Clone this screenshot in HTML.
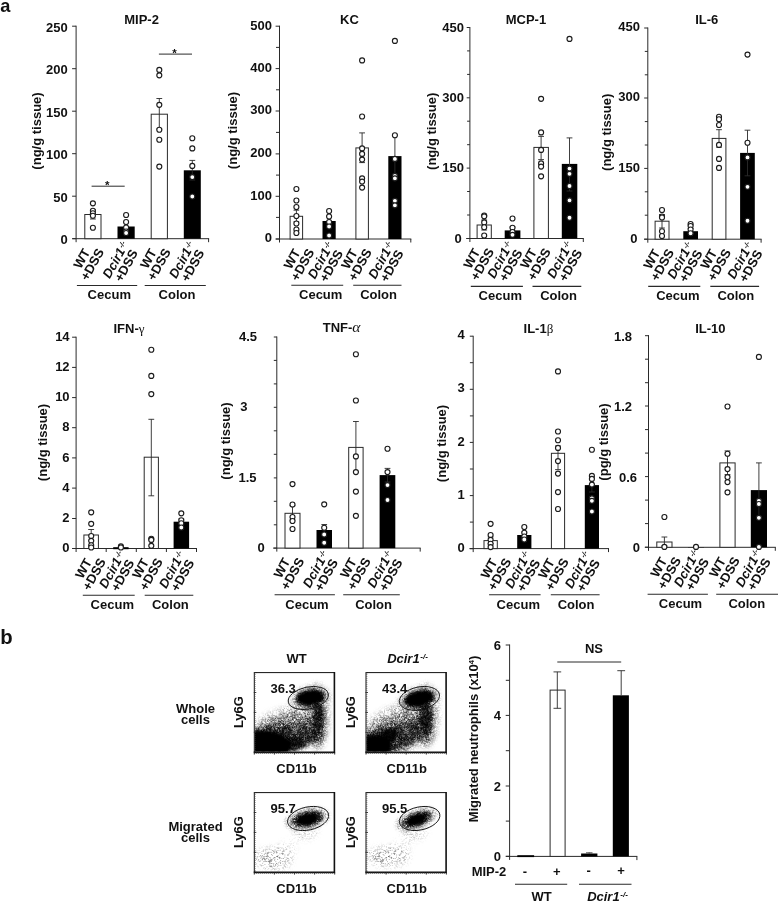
<!DOCTYPE html>
<html lang="en"><head><meta charset="utf-8"><title>Figure</title>
<style>html,body{margin:0;padding:0;background:#fff}svg{display:block}</style>
</head><body>
<svg width="778" height="903" viewBox="0 0 778 903" font-family="'Liberation Sans',Arial,sans-serif" fill="#111" shape-rendering="geometricPrecision">
<rect width="778" height="903" fill="#fff"/>
<text x="0.3" y="11.6" font-size="18.2" text-anchor="start" font-weight="bold">a</text>
<text x="0.2" y="643.7" font-size="20.3" text-anchor="start" font-weight="bold">b</text>
<line x1="76.1" y1="25.7" x2="76.1" y2="242.2" stroke="#2a2a2a" stroke-width="1"/>
<line x1="72.4" y1="238.7" x2="209.1" y2="238.7" stroke="#2a2a2a" stroke-width="1"/>
<line x1="208.6" y1="238.7" x2="208.6" y2="242.2" stroke="#2a2a2a" stroke-width="1"/>
<line x1="72.1" y1="26.2" x2="76.1" y2="26.2" stroke="#2a2a2a" stroke-width="1"/>
<text x="67.7" y="31.8" font-size="13" text-anchor="end" font-weight="bold">250</text>
<line x1="72.1" y1="68.7" x2="76.1" y2="68.7" stroke="#2a2a2a" stroke-width="1"/>
<text x="67.7" y="74.3" font-size="13" text-anchor="end" font-weight="bold">200</text>
<line x1="72.1" y1="111.2" x2="76.1" y2="111.2" stroke="#2a2a2a" stroke-width="1"/>
<text x="67.7" y="116.8" font-size="13" text-anchor="end" font-weight="bold">150</text>
<line x1="72.1" y1="153.7" x2="76.1" y2="153.7" stroke="#2a2a2a" stroke-width="1"/>
<text x="67.7" y="159.3" font-size="13" text-anchor="end" font-weight="bold">100</text>
<line x1="72.1" y1="196.2" x2="76.1" y2="196.2" stroke="#2a2a2a" stroke-width="1"/>
<text x="67.7" y="201.8" font-size="13" text-anchor="end" font-weight="bold">50</text>
<line x1="72.1" y1="238.7" x2="76.1" y2="238.7" stroke="#2a2a2a" stroke-width="1"/>
<text x="67.7" y="244.3" font-size="13" text-anchor="end" font-weight="bold">0</text>
<text x="141.6" y="23.5" font-size="13" text-anchor="middle" font-weight="bold">MIP-2</text>
<text x="41" y="131" font-size="13" text-anchor="middle" font-weight="bold" transform="rotate(-90 41 131)">(ng/g tissue)</text>
<rect x="84.8" y="214.5" width="16.2" height="24.2" fill="#fff" stroke="#2a2a2a" stroke-width="1"/>
<rect x="117.5" y="226.5" width="17.2" height="12.2" fill="#000"/>
<rect x="151.2" y="114.2" width="16.2" height="124.5" fill="#fff" stroke="#2a2a2a" stroke-width="1"/>
<rect x="183.8" y="170.3" width="17" height="68.4" fill="#000"/>
<line x1="92.9" y1="209.5" x2="92.9" y2="219" stroke="#2a2a2a" stroke-width="0.9"/>
<line x1="90" y1="219" x2="95.8" y2="219" stroke="#2a2a2a" stroke-width="0.9"/>
<line x1="90" y1="209.5" x2="95.8" y2="209.5" stroke="#2a2a2a" stroke-width="0.9"/>
<line x1="126.1" y1="222.5" x2="126.1" y2="226.5" stroke="#2a2a2a" stroke-width="0.9"/>
<line x1="126.1" y1="226.5" x2="126.1" y2="230" stroke="#303030" stroke-width="0.8"/>
<line x1="123.2" y1="230" x2="129" y2="230" stroke="#303030" stroke-width="0.8"/>
<line x1="123.2" y1="222.5" x2="129" y2="222.5" stroke="#2a2a2a" stroke-width="0.9"/>
<line x1="159.3" y1="98.5" x2="159.3" y2="129" stroke="#2a2a2a" stroke-width="0.9"/>
<line x1="156.4" y1="129" x2="162.2" y2="129" stroke="#2a2a2a" stroke-width="0.9"/>
<line x1="156.4" y1="98.5" x2="162.2" y2="98.5" stroke="#2a2a2a" stroke-width="0.9"/>
<line x1="192.3" y1="160.4" x2="192.3" y2="170.3" stroke="#2a2a2a" stroke-width="0.9"/>
<line x1="192.3" y1="170.3" x2="192.3" y2="180" stroke="#303030" stroke-width="0.8"/>
<line x1="189.4" y1="180" x2="195.2" y2="180" stroke="#303030" stroke-width="0.8"/>
<line x1="189.4" y1="160.4" x2="195.2" y2="160.4" stroke="#2a2a2a" stroke-width="0.9"/>
<circle cx="92.9" cy="203.3" r="2.5" fill="#fff" stroke="#1c1c1c" stroke-width="1.15"/>
<circle cx="92.9" cy="210.7" r="2.5" fill="#fff" stroke="#1c1c1c" stroke-width="1.15"/>
<circle cx="92.9" cy="213.2" r="2.5" fill="#fff" stroke="#1c1c1c" stroke-width="1.15"/>
<circle cx="92.9" cy="215.7" r="2.5" fill="#fff" stroke="#1c1c1c" stroke-width="1.15"/>
<circle cx="92.9" cy="227.7" r="2.5" fill="#fff" stroke="#1c1c1c" stroke-width="1.15"/>
<circle cx="126.1" cy="215" r="2.5" fill="#fff" stroke="#1c1c1c" stroke-width="1.15"/>
<circle cx="126.1" cy="222" r="2.5" fill="#fff" stroke="#1c1c1c" stroke-width="1.15"/>
<circle cx="126.1" cy="227.5" r="2.5" fill="#fff" stroke="#1c1c1c" stroke-width="1.15"/>
<circle cx="126.1" cy="231.5" r="2.5" fill="#fff" stroke="#1c1c1c" stroke-width="1.15"/>
<circle cx="126.1" cy="233" r="2.5" fill="#fff" stroke="#1c1c1c" stroke-width="1.15"/>
<circle cx="159.3" cy="69.9" r="2.5" fill="#fff" stroke="#1c1c1c" stroke-width="1.15"/>
<circle cx="159.3" cy="75.3" r="2.5" fill="#fff" stroke="#1c1c1c" stroke-width="1.15"/>
<circle cx="159.3" cy="104.8" r="2.5" fill="#fff" stroke="#1c1c1c" stroke-width="1.15"/>
<circle cx="159.3" cy="129.7" r="2.5" fill="#fff" stroke="#1c1c1c" stroke-width="1.15"/>
<circle cx="159.3" cy="139.7" r="2.5" fill="#fff" stroke="#1c1c1c" stroke-width="1.15"/>
<circle cx="159.3" cy="166.6" r="2.5" fill="#fff" stroke="#1c1c1c" stroke-width="1.15"/>
<circle cx="192.3" cy="138.2" r="2.5" fill="#fff" stroke="#1c1c1c" stroke-width="1.15"/>
<circle cx="192.3" cy="148.4" r="2.5" fill="#fff" stroke="#1c1c1c" stroke-width="1.15"/>
<circle cx="192.3" cy="165.9" r="2.5" fill="#fff" stroke="#1c1c1c" stroke-width="1.15"/>
<circle cx="192.3" cy="177.1" r="2.5" fill="#fff" stroke="#1c1c1c" stroke-width="1.15"/>
<circle cx="192.3" cy="196.5" r="2.5" fill="#fff" stroke="#1c1c1c" stroke-width="1.15"/>
<g transform="translate(87 261.5) rotate(-61)" font-size="13" font-weight="bold" text-anchor="middle">
<text x="0" y="-1.5">WT</text>
<text x="0" y="10.5">+DSS</text>
</g>
<g transform="translate(120.8 262.7) rotate(-61)" font-size="13" font-weight="bold" text-anchor="middle">
<text x="0" y="-1.5"><tspan font-style="italic">Dcir1</tspan><tspan font-size="7" font-weight="bold" font-style="italic" dx=".6" dy="-4">-/-</tspan></text>
<text x="0" y="10.5">+DSS</text>
</g>
<g transform="translate(153.6 261.5) rotate(-61)" font-size="13" font-weight="bold" text-anchor="middle">
<text x="0" y="-1.5">WT</text>
<text x="0" y="10.5">+DSS</text>
</g>
<g transform="translate(187.3 262.7) rotate(-61)" font-size="13" font-weight="bold" text-anchor="middle">
<text x="0" y="-1.5"><tspan font-style="italic">Dcir1</tspan><tspan font-size="7" font-weight="bold" font-style="italic" dx=".6" dy="-4">-/-</tspan></text>
<text x="0" y="10.5">+DSS</text>
</g>
<line x1="76.9" y1="285.5" x2="137.2" y2="285.5" stroke="#2a2a2a" stroke-width="1.1"/>
<text x="109.3" y="299.3" font-size="13" text-anchor="middle" font-weight="bold">Cecum</text>
<line x1="144.7" y1="285.5" x2="205.8" y2="285.5" stroke="#2a2a2a" stroke-width="1.1"/>
<text x="177" y="299.3" font-size="13" text-anchor="middle" font-weight="bold">Colon</text>
<line x1="91.6" y1="186.2" x2="124.7" y2="186.2" stroke="#2a2a2a" stroke-width="1"/>
<text x="107.2" y="189.4" font-size="11.5" text-anchor="middle" font-weight="bold">*</text>
<line x1="158.9" y1="54.1" x2="192" y2="54.1" stroke="#2a2a2a" stroke-width="1"/>
<text x="174.4" y="57.3" font-size="11.5" text-anchor="middle" font-weight="bold">*</text>
<line x1="279.5" y1="25.7" x2="279.5" y2="242.5" stroke="#2a2a2a" stroke-width="1"/>
<line x1="275.8" y1="239" x2="411.3" y2="239" stroke="#2a2a2a" stroke-width="1"/>
<line x1="410.8" y1="239" x2="410.8" y2="242.5" stroke="#2a2a2a" stroke-width="1"/>
<line x1="275.6" y1="26.2" x2="279.5" y2="26.2" stroke="#2a2a2a" stroke-width="1"/>
<text x="272" y="29.6" font-size="13" text-anchor="end" font-weight="bold">500</text>
<line x1="275.6" y1="68.6" x2="279.5" y2="68.6" stroke="#2a2a2a" stroke-width="1"/>
<text x="272" y="72" font-size="13" text-anchor="end" font-weight="bold">400</text>
<line x1="275.6" y1="111" x2="279.5" y2="111" stroke="#2a2a2a" stroke-width="1"/>
<text x="272" y="114.4" font-size="13" text-anchor="end" font-weight="bold">300</text>
<line x1="275.6" y1="153.9" x2="279.5" y2="153.9" stroke="#2a2a2a" stroke-width="1"/>
<text x="272" y="157.3" font-size="13" text-anchor="end" font-weight="bold">200</text>
<line x1="275.6" y1="196.3" x2="279.5" y2="196.3" stroke="#2a2a2a" stroke-width="1"/>
<text x="272" y="199.7" font-size="13" text-anchor="end" font-weight="bold">100</text>
<line x1="275.6" y1="239" x2="279.5" y2="239" stroke="#2a2a2a" stroke-width="1"/>
<text x="272" y="242.4" font-size="13" text-anchor="end" font-weight="bold">0</text>
<line x1="276" y1="47.4" x2="279.5" y2="47.4" stroke="#2a2a2a" stroke-width="1"/>
<line x1="276" y1="89.8" x2="279.5" y2="89.8" stroke="#2a2a2a" stroke-width="1"/>
<line x1="276" y1="132.4" x2="279.5" y2="132.4" stroke="#2a2a2a" stroke-width="1"/>
<line x1="276" y1="175.1" x2="279.5" y2="175.1" stroke="#2a2a2a" stroke-width="1"/>
<line x1="276" y1="217.4" x2="279.5" y2="217.4" stroke="#2a2a2a" stroke-width="1"/>
<text x="349.5" y="23.5" font-size="13" text-anchor="middle" font-weight="bold">KC</text>
<text x="237.3" y="130.5" font-size="13" text-anchor="middle" font-weight="bold" transform="rotate(-90 237.3 130.5)">(ng/g tissue)</text>
<rect x="290.1" y="216.3" width="12.5" height="22.7" fill="#fff" stroke="#2a2a2a" stroke-width="1"/>
<rect x="322.5" y="221" width="13.2" height="18" fill="#000"/>
<rect x="355.9" y="147.9" width="12.5" height="91.1" fill="#fff" stroke="#2a2a2a" stroke-width="1"/>
<rect x="388.3" y="156.1" width="13.2" height="82.9" fill="#000"/>
<line x1="296.4" y1="210.2" x2="296.4" y2="221.8" stroke="#2a2a2a" stroke-width="0.9"/>
<line x1="293.5" y1="221.8" x2="299.2" y2="221.8" stroke="#2a2a2a" stroke-width="0.9"/>
<line x1="293.5" y1="210.2" x2="299.2" y2="210.2" stroke="#2a2a2a" stroke-width="0.9"/>
<line x1="329.1" y1="216" x2="329.1" y2="221" stroke="#2a2a2a" stroke-width="0.9"/>
<line x1="329.1" y1="221" x2="329.1" y2="226" stroke="#303030" stroke-width="0.8"/>
<line x1="326.2" y1="226" x2="332" y2="226" stroke="#303030" stroke-width="0.8"/>
<line x1="326.2" y1="216" x2="332" y2="216" stroke="#2a2a2a" stroke-width="0.9"/>
<line x1="362.1" y1="132.9" x2="362.1" y2="162.6" stroke="#2a2a2a" stroke-width="0.9"/>
<line x1="359.2" y1="162.6" x2="365" y2="162.6" stroke="#2a2a2a" stroke-width="0.9"/>
<line x1="359.2" y1="132.9" x2="365" y2="132.9" stroke="#2a2a2a" stroke-width="0.9"/>
<line x1="394.9" y1="135.2" x2="394.9" y2="156.1" stroke="#2a2a2a" stroke-width="0.9"/>
<line x1="394.9" y1="156.1" x2="394.9" y2="177" stroke="#303030" stroke-width="0.8"/>
<line x1="392" y1="177" x2="397.8" y2="177" stroke="#303030" stroke-width="0.8"/>
<line x1="392" y1="135.2" x2="397.8" y2="135.2" stroke="#2a2a2a" stroke-width="0.9"/>
<circle cx="296.4" cy="189" r="2.5" fill="#fff" stroke="#1c1c1c" stroke-width="1.15"/>
<circle cx="296.4" cy="200.5" r="2.5" fill="#fff" stroke="#1c1c1c" stroke-width="1.15"/>
<circle cx="296.4" cy="207" r="2.5" fill="#fff" stroke="#1c1c1c" stroke-width="1.15"/>
<circle cx="296.4" cy="216" r="2.5" fill="#fff" stroke="#1c1c1c" stroke-width="1.15"/>
<circle cx="296.4" cy="223.5" r="2.5" fill="#fff" stroke="#1c1c1c" stroke-width="1.15"/>
<circle cx="296.4" cy="229.5" r="2.5" fill="#fff" stroke="#1c1c1c" stroke-width="1.15"/>
<circle cx="296.4" cy="233" r="2.5" fill="#fff" stroke="#1c1c1c" stroke-width="1.15"/>
<circle cx="329.1" cy="211" r="2.5" fill="#fff" stroke="#1c1c1c" stroke-width="1.15"/>
<circle cx="329.1" cy="216.5" r="2.5" fill="#fff" stroke="#1c1c1c" stroke-width="1.15"/>
<circle cx="329.1" cy="222" r="2.5" fill="#fff" stroke="#1c1c1c" stroke-width="1.15"/>
<circle cx="329.1" cy="226.5" r="2.5" fill="#fff" stroke="#1c1c1c" stroke-width="1.15"/>
<circle cx="329.1" cy="235.5" r="2.5" fill="#fff" stroke="#1c1c1c" stroke-width="1.15"/>
<circle cx="362.1" cy="60.4" r="2.5" fill="#fff" stroke="#1c1c1c" stroke-width="1.15"/>
<circle cx="362.1" cy="116.5" r="2.5" fill="#fff" stroke="#1c1c1c" stroke-width="1.15"/>
<circle cx="362.1" cy="148.4" r="2.5" fill="#fff" stroke="#1c1c1c" stroke-width="1.15"/>
<circle cx="362.1" cy="153.9" r="2.5" fill="#fff" stroke="#1c1c1c" stroke-width="1.15"/>
<circle cx="362.1" cy="159.6" r="2.5" fill="#fff" stroke="#1c1c1c" stroke-width="1.15"/>
<circle cx="362.1" cy="178.3" r="2.5" fill="#fff" stroke="#1c1c1c" stroke-width="1.15"/>
<circle cx="362.1" cy="181.6" r="2.5" fill="#fff" stroke="#1c1c1c" stroke-width="1.15"/>
<circle cx="362.1" cy="187.6" r="2.5" fill="#fff" stroke="#1c1c1c" stroke-width="1.15"/>
<circle cx="394.9" cy="40.9" r="2.5" fill="#fff" stroke="#1c1c1c" stroke-width="1.15"/>
<circle cx="394.9" cy="135.2" r="2.5" fill="#fff" stroke="#1c1c1c" stroke-width="1.15"/>
<circle cx="394.9" cy="158.9" r="2.5" fill="#fff" stroke="#1c1c1c" stroke-width="1.15"/>
<circle cx="394.9" cy="175.8" r="2.5" fill="#fff" stroke="#1c1c1c" stroke-width="1.15"/>
<circle cx="394.9" cy="178.3" r="2.5" fill="#fff" stroke="#1c1c1c" stroke-width="1.15"/>
<circle cx="394.9" cy="200.8" r="2.5" fill="#fff" stroke="#1c1c1c" stroke-width="1.15"/>
<circle cx="394.9" cy="205.3" r="2.5" fill="#fff" stroke="#1c1c1c" stroke-width="1.15"/>
<g transform="translate(297.2 261.8) rotate(-61)" font-size="13" font-weight="bold" text-anchor="middle">
<text x="0" y="-1.5">WT</text>
<text x="0" y="10.5">+DSS</text>
</g>
<g transform="translate(325.9 263) rotate(-61)" font-size="13" font-weight="bold" text-anchor="middle">
<text x="0" y="-1.5"><tspan font-style="italic">Dcir1</tspan><tspan font-size="7" font-weight="bold" font-style="italic" dx=".6" dy="-4">-/-</tspan></text>
<text x="0" y="10.5">+DSS</text>
</g>
<g transform="translate(354.6 261.8) rotate(-61)" font-size="13" font-weight="bold" text-anchor="middle">
<text x="0" y="-1.5">WT</text>
<text x="0" y="10.5">+DSS</text>
</g>
<g transform="translate(386.4 263) rotate(-61)" font-size="13" font-weight="bold" text-anchor="middle">
<text x="0" y="-1.5"><tspan font-style="italic">Dcir1</tspan><tspan font-size="7" font-weight="bold" font-style="italic" dx=".6" dy="-4">-/-</tspan></text>
<text x="0" y="10.5">+DSS</text>
</g>
<line x1="291.3" y1="285.3" x2="343.2" y2="285.3" stroke="#2a2a2a" stroke-width="1.1"/>
<text x="320.7" y="299.1" font-size="13" text-anchor="middle" font-weight="bold">Cecum</text>
<line x1="353.2" y1="285.3" x2="401.5" y2="285.3" stroke="#2a2a2a" stroke-width="1.1"/>
<text x="378.6" y="299.1" font-size="13" text-anchor="middle" font-weight="bold">Colon</text>
<line x1="469.9" y1="27" x2="469.9" y2="242" stroke="#2a2a2a" stroke-width="1"/>
<line x1="466.2" y1="238.5" x2="583.8" y2="238.5" stroke="#2a2a2a" stroke-width="1"/>
<line x1="583.3" y1="238.5" x2="583.3" y2="242" stroke="#2a2a2a" stroke-width="1"/>
<line x1="466.7" y1="27.5" x2="469.9" y2="27.5" stroke="#2a2a2a" stroke-width="1"/>
<text x="463.9" y="31.6" font-size="13" text-anchor="end" font-weight="bold">450</text>
<line x1="466.7" y1="97.8" x2="469.9" y2="97.8" stroke="#2a2a2a" stroke-width="1"/>
<text x="463.9" y="101.9" font-size="13" text-anchor="end" font-weight="bold">300</text>
<line x1="466.7" y1="168.1" x2="469.9" y2="168.1" stroke="#2a2a2a" stroke-width="1"/>
<text x="463.9" y="172.2" font-size="13" text-anchor="end" font-weight="bold">150</text>
<line x1="466.7" y1="238.5" x2="469.9" y2="238.5" stroke="#2a2a2a" stroke-width="1"/>
<text x="461.8" y="242.6" font-size="13" text-anchor="end" font-weight="bold">0</text>
<line x1="467.1" y1="50.9" x2="469.9" y2="50.9" stroke="#2a2a2a" stroke-width="1"/>
<line x1="467.1" y1="74.4" x2="469.9" y2="74.4" stroke="#2a2a2a" stroke-width="1"/>
<line x1="467.1" y1="121.2" x2="469.9" y2="121.2" stroke="#2a2a2a" stroke-width="1"/>
<line x1="467.1" y1="144.7" x2="469.9" y2="144.7" stroke="#2a2a2a" stroke-width="1"/>
<line x1="467.1" y1="191.5" x2="469.9" y2="191.5" stroke="#2a2a2a" stroke-width="1"/>
<line x1="467.1" y1="215" x2="469.9" y2="215" stroke="#2a2a2a" stroke-width="1"/>
<text x="525.9" y="23.5" font-size="13" text-anchor="middle" font-weight="bold">MCP-1</text>
<text x="436.5" y="131.3" font-size="13" text-anchor="middle" font-weight="bold" transform="rotate(-90 436.5 131.3)">(ng/g tissue)</text>
<rect x="477.1" y="225" width="14.2" height="13.5" fill="#fff" stroke="#2a2a2a" stroke-width="1"/>
<rect x="504.7" y="230.4" width="15.7" height="8.1" fill="#000"/>
<rect x="533.9" y="147.4" width="14.5" height="91.1" fill="#fff" stroke="#2a2a2a" stroke-width="1"/>
<rect x="561.8" y="163.9" width="15.5" height="74.6" fill="#000"/>
<line x1="484.2" y1="220" x2="484.2" y2="230" stroke="#2a2a2a" stroke-width="0.9"/>
<line x1="481.3" y1="230" x2="487.1" y2="230" stroke="#2a2a2a" stroke-width="0.9"/>
<line x1="481.3" y1="220" x2="487.1" y2="220" stroke="#2a2a2a" stroke-width="0.9"/>
<line x1="512.5" y1="227" x2="512.5" y2="230.4" stroke="#2a2a2a" stroke-width="0.9"/>
<line x1="512.5" y1="230.4" x2="512.5" y2="234" stroke="#303030" stroke-width="0.8"/>
<line x1="509.6" y1="234" x2="515.4" y2="234" stroke="#303030" stroke-width="0.8"/>
<line x1="509.6" y1="227" x2="515.4" y2="227" stroke="#2a2a2a" stroke-width="0.9"/>
<line x1="541.1" y1="136.4" x2="541.1" y2="159.6" stroke="#2a2a2a" stroke-width="0.9"/>
<line x1="538.2" y1="159.6" x2="544" y2="159.6" stroke="#2a2a2a" stroke-width="0.9"/>
<line x1="538.2" y1="136.4" x2="544" y2="136.4" stroke="#2a2a2a" stroke-width="0.9"/>
<line x1="569.5" y1="137.9" x2="569.5" y2="163.9" stroke="#2a2a2a" stroke-width="0.9"/>
<line x1="569.5" y1="163.9" x2="569.5" y2="191" stroke="#303030" stroke-width="0.8"/>
<line x1="566.6" y1="191" x2="572.4" y2="191" stroke="#303030" stroke-width="0.8"/>
<line x1="566.6" y1="137.9" x2="572.4" y2="137.9" stroke="#2a2a2a" stroke-width="0.9"/>
<circle cx="484.2" cy="215.5" r="2.5" fill="#fff" stroke="#1c1c1c" stroke-width="1.15"/>
<circle cx="484.2" cy="216.3" r="2.5" fill="#fff" stroke="#1c1c1c" stroke-width="1.15"/>
<circle cx="484.2" cy="222.4" r="2.5" fill="#fff" stroke="#1c1c1c" stroke-width="1.15"/>
<circle cx="484.2" cy="227.2" r="2.5" fill="#fff" stroke="#1c1c1c" stroke-width="1.15"/>
<circle cx="484.2" cy="235.5" r="2.5" fill="#fff" stroke="#1c1c1c" stroke-width="1.15"/>
<circle cx="512.5" cy="218.5" r="2.5" fill="#fff" stroke="#1c1c1c" stroke-width="1.15"/>
<circle cx="512.5" cy="227.7" r="2.5" fill="#fff" stroke="#1c1c1c" stroke-width="1.15"/>
<circle cx="512.5" cy="232" r="2.5" fill="#fff" stroke="#1c1c1c" stroke-width="1.15"/>
<circle cx="512.5" cy="234.8" r="2.5" fill="#fff" stroke="#1c1c1c" stroke-width="1.15"/>
<circle cx="541.1" cy="98.8" r="2.5" fill="#fff" stroke="#1c1c1c" stroke-width="1.15"/>
<circle cx="541.1" cy="132.4" r="2.5" fill="#fff" stroke="#1c1c1c" stroke-width="1.15"/>
<circle cx="541.1" cy="149.9" r="2.5" fill="#fff" stroke="#1c1c1c" stroke-width="1.15"/>
<circle cx="541.1" cy="163.4" r="2.5" fill="#fff" stroke="#1c1c1c" stroke-width="1.15"/>
<circle cx="541.1" cy="166.6" r="2.5" fill="#fff" stroke="#1c1c1c" stroke-width="1.15"/>
<circle cx="541.1" cy="176.3" r="2.5" fill="#fff" stroke="#1c1c1c" stroke-width="1.15"/>
<circle cx="569.5" cy="38.9" r="2.5" fill="#fff" stroke="#1c1c1c" stroke-width="1.15"/>
<circle cx="569.5" cy="168.6" r="2.5" fill="#fff" stroke="#1c1c1c" stroke-width="1.15"/>
<circle cx="569.5" cy="173.8" r="2.5" fill="#fff" stroke="#1c1c1c" stroke-width="1.15"/>
<circle cx="569.5" cy="186" r="2.5" fill="#fff" stroke="#1c1c1c" stroke-width="1.15"/>
<circle cx="569.5" cy="200.3" r="2.5" fill="#fff" stroke="#1c1c1c" stroke-width="1.15"/>
<circle cx="569.5" cy="217.7" r="2.5" fill="#fff" stroke="#1c1c1c" stroke-width="1.15"/>
<g transform="translate(476.9 261.3) rotate(-61)" font-size="13" font-weight="bold" text-anchor="middle">
<text x="0" y="-1.5">WT</text>
<text x="0" y="10.5">+DSS</text>
</g>
<g transform="translate(505.4 262.5) rotate(-61)" font-size="13" font-weight="bold" text-anchor="middle">
<text x="0" y="-1.5"><tspan font-style="italic">Dcir1</tspan><tspan font-size="7" font-weight="bold" font-style="italic" dx=".6" dy="-4">-/-</tspan></text>
<text x="0" y="10.5">+DSS</text>
</g>
<g transform="translate(533.8 261.3) rotate(-61)" font-size="13" font-weight="bold" text-anchor="middle">
<text x="0" y="-1.5">WT</text>
<text x="0" y="10.5">+DSS</text>
</g>
<g transform="translate(565.1 262.5) rotate(-61)" font-size="13" font-weight="bold" text-anchor="middle">
<text x="0" y="-1.5"><tspan font-style="italic">Dcir1</tspan><tspan font-size="7" font-weight="bold" font-style="italic" dx=".6" dy="-4">-/-</tspan></text>
<text x="0" y="10.5">+DSS</text>
</g>
<line x1="470.8" y1="286.4" x2="522.9" y2="286.4" stroke="#2a2a2a" stroke-width="1.1"/>
<text x="500.3" y="300.2" font-size="13" text-anchor="middle" font-weight="bold">Cecum</text>
<line x1="532.5" y1="286.4" x2="581.3" y2="286.4" stroke="#2a2a2a" stroke-width="1.1"/>
<text x="558.6" y="300.2" font-size="13" text-anchor="middle" font-weight="bold">Colon</text>
<line x1="647.8" y1="27.5" x2="647.8" y2="242.7" stroke="#2a2a2a" stroke-width="1"/>
<line x1="644.1" y1="239.2" x2="761.6" y2="239.2" stroke="#2a2a2a" stroke-width="1"/>
<line x1="761.1" y1="239.2" x2="761.1" y2="242.7" stroke="#2a2a2a" stroke-width="1"/>
<line x1="644.2" y1="28" x2="647.8" y2="28" stroke="#2a2a2a" stroke-width="1"/>
<text x="639.9" y="31.4" font-size="13" text-anchor="end" font-weight="bold">450</text>
<line x1="644.2" y1="98" x2="647.8" y2="98" stroke="#2a2a2a" stroke-width="1"/>
<text x="639.9" y="101.4" font-size="13" text-anchor="end" font-weight="bold">300</text>
<line x1="644.2" y1="168.4" x2="647.8" y2="168.4" stroke="#2a2a2a" stroke-width="1"/>
<text x="639.9" y="171.8" font-size="13" text-anchor="end" font-weight="bold">150</text>
<line x1="644.2" y1="239.2" x2="647.8" y2="239.2" stroke="#2a2a2a" stroke-width="1"/>
<text x="637.6" y="242.6" font-size="13" text-anchor="end" font-weight="bold">0</text>
<line x1="644.8" y1="51.4" x2="647.8" y2="51.4" stroke="#2a2a2a" stroke-width="1"/>
<line x1="644.8" y1="74.8" x2="647.8" y2="74.8" stroke="#2a2a2a" stroke-width="1"/>
<line x1="644.8" y1="121.6" x2="647.8" y2="121.6" stroke="#2a2a2a" stroke-width="1"/>
<line x1="644.8" y1="145" x2="647.8" y2="145" stroke="#2a2a2a" stroke-width="1"/>
<line x1="644.8" y1="191.8" x2="647.8" y2="191.8" stroke="#2a2a2a" stroke-width="1"/>
<line x1="644.8" y1="215.2" x2="647.8" y2="215.2" stroke="#2a2a2a" stroke-width="1"/>
<text x="706.7" y="23.5" font-size="13" text-anchor="middle" font-weight="bold">IL-6</text>
<text x="611.5" y="132.3" font-size="13" text-anchor="middle" font-weight="bold" transform="rotate(-90 611.5 132.3)">(ng/g tissue)</text>
<rect x="655.1" y="221.2" width="13.9" height="18" fill="#fff" stroke="#2a2a2a" stroke-width="1"/>
<rect x="683.3" y="231.2" width="14.7" height="8" fill="#000"/>
<rect x="712.2" y="138.4" width="13.7" height="100.8" fill="#fff" stroke="#2a2a2a" stroke-width="1"/>
<rect x="740.1" y="152.9" width="14.7" height="86.3" fill="#000"/>
<line x1="662" y1="214.5" x2="662" y2="228" stroke="#2a2a2a" stroke-width="0.9"/>
<line x1="659.1" y1="228" x2="664.9" y2="228" stroke="#2a2a2a" stroke-width="0.9"/>
<line x1="659.1" y1="214.5" x2="664.9" y2="214.5" stroke="#2a2a2a" stroke-width="0.9"/>
<line x1="690.6" y1="228.5" x2="690.6" y2="231.2" stroke="#2a2a2a" stroke-width="0.9"/>
<line x1="690.6" y1="231.2" x2="690.6" y2="234" stroke="#303030" stroke-width="0.8"/>
<line x1="687.8" y1="234" x2="693.5" y2="234" stroke="#303030" stroke-width="0.8"/>
<line x1="687.8" y1="228.5" x2="693.5" y2="228.5" stroke="#2a2a2a" stroke-width="0.9"/>
<line x1="719" y1="129.7" x2="719" y2="147.2" stroke="#2a2a2a" stroke-width="0.9"/>
<line x1="716.1" y1="147.2" x2="721.9" y2="147.2" stroke="#2a2a2a" stroke-width="0.9"/>
<line x1="716.1" y1="129.7" x2="721.9" y2="129.7" stroke="#2a2a2a" stroke-width="0.9"/>
<line x1="747.5" y1="130.2" x2="747.5" y2="152.9" stroke="#2a2a2a" stroke-width="0.9"/>
<line x1="747.5" y1="152.9" x2="747.5" y2="175.8" stroke="#303030" stroke-width="0.8"/>
<line x1="744.6" y1="175.8" x2="750.4" y2="175.8" stroke="#303030" stroke-width="0.8"/>
<line x1="744.6" y1="130.2" x2="750.4" y2="130.2" stroke="#2a2a2a" stroke-width="0.9"/>
<circle cx="662" cy="210" r="2.5" fill="#fff" stroke="#1c1c1c" stroke-width="1.15"/>
<circle cx="662" cy="216.5" r="2.5" fill="#fff" stroke="#1c1c1c" stroke-width="1.15"/>
<circle cx="662" cy="217.5" r="2.5" fill="#fff" stroke="#1c1c1c" stroke-width="1.15"/>
<circle cx="662" cy="231.2" r="2.5" fill="#fff" stroke="#1c1c1c" stroke-width="1.15"/>
<circle cx="662" cy="236" r="2.5" fill="#fff" stroke="#1c1c1c" stroke-width="1.15"/>
<circle cx="690.6" cy="224" r="2.5" fill="#fff" stroke="#1c1c1c" stroke-width="1.15"/>
<circle cx="690.6" cy="226" r="2.5" fill="#fff" stroke="#1c1c1c" stroke-width="1.15"/>
<circle cx="690.6" cy="229.5" r="2.5" fill="#fff" stroke="#1c1c1c" stroke-width="1.15"/>
<circle cx="690.6" cy="233.2" r="2.5" fill="#fff" stroke="#1c1c1c" stroke-width="1.15"/>
<circle cx="719" cy="116.7" r="2.5" fill="#fff" stroke="#1c1c1c" stroke-width="1.15"/>
<circle cx="719" cy="119.2" r="2.5" fill="#fff" stroke="#1c1c1c" stroke-width="1.15"/>
<circle cx="719" cy="125" r="2.5" fill="#fff" stroke="#1c1c1c" stroke-width="1.15"/>
<circle cx="719" cy="144.9" r="2.5" fill="#fff" stroke="#1c1c1c" stroke-width="1.15"/>
<circle cx="719" cy="158.9" r="2.5" fill="#fff" stroke="#1c1c1c" stroke-width="1.15"/>
<circle cx="719" cy="167.9" r="2.5" fill="#fff" stroke="#1c1c1c" stroke-width="1.15"/>
<circle cx="747.5" cy="54.6" r="2.5" fill="#fff" stroke="#1c1c1c" stroke-width="1.15"/>
<circle cx="747.5" cy="142.7" r="2.5" fill="#fff" stroke="#1c1c1c" stroke-width="1.15"/>
<circle cx="747.5" cy="157.4" r="2.5" fill="#fff" stroke="#1c1c1c" stroke-width="1.15"/>
<circle cx="747.5" cy="186.8" r="2.5" fill="#fff" stroke="#1c1c1c" stroke-width="1.15"/>
<circle cx="747.5" cy="220.7" r="2.5" fill="#fff" stroke="#1c1c1c" stroke-width="1.15"/>
<g transform="translate(656.9 262) rotate(-61)" font-size="13" font-weight="bold" text-anchor="middle">
<text x="0" y="-1.5">WT</text>
<text x="0" y="10.5">+DSS</text>
</g>
<g transform="translate(685.5 263.2) rotate(-61)" font-size="13" font-weight="bold" text-anchor="middle">
<text x="0" y="-1.5"><tspan font-style="italic">Dcir1</tspan><tspan font-size="7" font-weight="bold" font-style="italic" dx=".6" dy="-4">-/-</tspan></text>
<text x="0" y="10.5">+DSS</text>
</g>
<g transform="translate(714 262) rotate(-61)" font-size="13" font-weight="bold" text-anchor="middle">
<text x="0" y="-1.5">WT</text>
<text x="0" y="10.5">+DSS</text>
</g>
<g transform="translate(745.4 263.2) rotate(-61)" font-size="13" font-weight="bold" text-anchor="middle">
<text x="0" y="-1.5"><tspan font-style="italic">Dcir1</tspan><tspan font-size="7" font-weight="bold" font-style="italic" dx=".6" dy="-4">-/-</tspan></text>
<text x="0" y="10.5">+DSS</text>
</g>
<line x1="648.2" y1="286.4" x2="700.3" y2="286.4" stroke="#2a2a2a" stroke-width="1.1"/>
<text x="677.9" y="300.2" font-size="13" text-anchor="middle" font-weight="bold">Cecum</text>
<line x1="710.3" y1="286.4" x2="759.1" y2="286.4" stroke="#2a2a2a" stroke-width="1.1"/>
<text x="735.8" y="300.2" font-size="13" text-anchor="middle" font-weight="bold">Colon</text>
<line x1="76.1" y1="336.7" x2="76.1" y2="552" stroke="#2a2a2a" stroke-width="1"/>
<line x1="72.4" y1="548.5" x2="197" y2="548.5" stroke="#2a2a2a" stroke-width="1"/>
<line x1="106.2" y1="548.5" x2="106.2" y2="552" stroke="#2a2a2a" stroke-width="1"/>
<line x1="136.3" y1="548.5" x2="136.3" y2="552" stroke="#2a2a2a" stroke-width="1"/>
<line x1="166.4" y1="548.5" x2="166.4" y2="552" stroke="#2a2a2a" stroke-width="1"/>
<line x1="196.5" y1="548.5" x2="196.5" y2="552" stroke="#2a2a2a" stroke-width="1"/>
<line x1="72.1" y1="337.2" x2="76.1" y2="337.2" stroke="#2a2a2a" stroke-width="1"/>
<text x="69.6" y="340.8" font-size="13" text-anchor="end" font-weight="bold">14</text>
<line x1="72.1" y1="367.4" x2="76.1" y2="367.4" stroke="#2a2a2a" stroke-width="1"/>
<text x="69.6" y="371" font-size="13" text-anchor="end" font-weight="bold">12</text>
<line x1="72.1" y1="397.6" x2="76.1" y2="397.6" stroke="#2a2a2a" stroke-width="1"/>
<text x="69.6" y="401.2" font-size="13" text-anchor="end" font-weight="bold">10</text>
<line x1="72.1" y1="427.7" x2="76.1" y2="427.7" stroke="#2a2a2a" stroke-width="1"/>
<text x="69.6" y="431.3" font-size="13" text-anchor="end" font-weight="bold">8</text>
<line x1="72.1" y1="457.9" x2="76.1" y2="457.9" stroke="#2a2a2a" stroke-width="1"/>
<text x="69.6" y="461.5" font-size="13" text-anchor="end" font-weight="bold">6</text>
<line x1="72.1" y1="488.1" x2="76.1" y2="488.1" stroke="#2a2a2a" stroke-width="1"/>
<text x="69.6" y="491.7" font-size="13" text-anchor="end" font-weight="bold">4</text>
<line x1="72.1" y1="518.5" x2="76.1" y2="518.5" stroke="#2a2a2a" stroke-width="1"/>
<text x="69.6" y="522.1" font-size="13" text-anchor="end" font-weight="bold">2</text>
<line x1="72.1" y1="548.5" x2="76.1" y2="548.5" stroke="#2a2a2a" stroke-width="1"/>
<text x="69.6" y="552.1" font-size="13" text-anchor="end" font-weight="bold">0</text>
<text x="129" y="332.6" font-size="13" text-anchor="middle" font-weight="bold">IFN-<tspan font-family="Liberation Serif,serif" font-weight="normal" font-size="13">γ</tspan></text>
<text x="47" y="442.5" font-size="13" text-anchor="middle" font-weight="bold" transform="rotate(-90 47 442.5)">(ng/g tissue)</text>
<rect x="83.9" y="535" width="14.5" height="13.5" fill="#fff" stroke="#2a2a2a" stroke-width="1"/>
<rect x="113.2" y="547.2" width="15.4" height="2" fill="#000"/>
<rect x="144.2" y="457.2" width="14.2" height="91.3" fill="#fff" stroke="#2a2a2a" stroke-width="1"/>
<rect x="173.6" y="521.7" width="15.5" height="26.8" fill="#000"/>
<line x1="91.2" y1="529.5" x2="91.2" y2="540.7" stroke="#2a2a2a" stroke-width="0.9"/>
<line x1="88.2" y1="540.7" x2="94.1" y2="540.7" stroke="#2a2a2a" stroke-width="0.9"/>
<line x1="88.2" y1="529.5" x2="94.1" y2="529.5" stroke="#2a2a2a" stroke-width="0.9"/>
<line x1="151.3" y1="419.3" x2="151.3" y2="495.8" stroke="#2a2a2a" stroke-width="0.9"/>
<line x1="148.4" y1="495.8" x2="154.2" y2="495.8" stroke="#2a2a2a" stroke-width="0.9"/>
<line x1="148.4" y1="419.3" x2="154.2" y2="419.3" stroke="#2a2a2a" stroke-width="0.9"/>
<line x1="181.3" y1="519" x2="181.3" y2="521.7" stroke="#2a2a2a" stroke-width="0.9"/>
<line x1="181.3" y1="521.7" x2="181.3" y2="524.5" stroke="#303030" stroke-width="0.8"/>
<line x1="178.4" y1="524.5" x2="184.2" y2="524.5" stroke="#303030" stroke-width="0.8"/>
<line x1="178.4" y1="519" x2="184.2" y2="519" stroke="#2a2a2a" stroke-width="0.9"/>
<circle cx="91.2" cy="512.3" r="2.5" fill="#fff" stroke="#1c1c1c" stroke-width="1.15"/>
<circle cx="91.2" cy="523.8" r="2.5" fill="#fff" stroke="#1c1c1c" stroke-width="1.15"/>
<circle cx="91.2" cy="536" r="2.5" fill="#fff" stroke="#1c1c1c" stroke-width="1.15"/>
<circle cx="91.2" cy="540.8" r="2.5" fill="#fff" stroke="#1c1c1c" stroke-width="1.15"/>
<circle cx="91.2" cy="545.2" r="2.5" fill="#fff" stroke="#1c1c1c" stroke-width="1.15"/>
<circle cx="91.2" cy="547.5" r="2.5" fill="#fff" stroke="#1c1c1c" stroke-width="1.15"/>
<circle cx="120.9" cy="546.4" r="2.5" fill="#fff" stroke="#1c1c1c" stroke-width="1.15"/>
<circle cx="120.9" cy="547.5" r="2.5" fill="#fff" stroke="#1c1c1c" stroke-width="1.15"/>
<circle cx="151.3" cy="349.7" r="2.5" fill="#fff" stroke="#1c1c1c" stroke-width="1.15"/>
<circle cx="151.3" cy="375.9" r="2.5" fill="#fff" stroke="#1c1c1c" stroke-width="1.15"/>
<circle cx="151.3" cy="394.1" r="2.5" fill="#fff" stroke="#1c1c1c" stroke-width="1.15"/>
<circle cx="151.3" cy="538.7" r="2.5" fill="#fff" stroke="#1c1c1c" stroke-width="1.15"/>
<circle cx="151.3" cy="539.9" r="2.5" fill="#fff" stroke="#1c1c1c" stroke-width="1.15"/>
<circle cx="151.3" cy="545.8" r="2.5" fill="#fff" stroke="#1c1c1c" stroke-width="1.15"/>
<circle cx="181.3" cy="513.3" r="2.5" fill="#fff" stroke="#1c1c1c" stroke-width="1.15"/>
<circle cx="181.3" cy="520.2" r="2.5" fill="#fff" stroke="#1c1c1c" stroke-width="1.15"/>
<circle cx="181.3" cy="523.2" r="2.5" fill="#fff" stroke="#1c1c1c" stroke-width="1.15"/>
<circle cx="181.3" cy="527.5" r="2.5" fill="#fff" stroke="#1c1c1c" stroke-width="1.15"/>
<g transform="translate(88.8 571.3) rotate(-61)" font-size="13" font-weight="bold" text-anchor="middle">
<text x="0" y="-1.5">WT</text>
<text x="0" y="10.5">+DSS</text>
</g>
<g transform="translate(117.3 572.5) rotate(-61)" font-size="13" font-weight="bold" text-anchor="middle">
<text x="0" y="-1.5"><tspan font-style="italic">Dcir1</tspan><tspan font-size="7" font-weight="bold" font-style="italic" dx=".6" dy="-4">-/-</tspan></text>
<text x="0" y="10.5">+DSS</text>
</g>
<g transform="translate(145.8 571.3) rotate(-61)" font-size="13" font-weight="bold" text-anchor="middle">
<text x="0" y="-1.5">WT</text>
<text x="0" y="10.5">+DSS</text>
</g>
<g transform="translate(177.2 572.5) rotate(-61)" font-size="13" font-weight="bold" text-anchor="middle">
<text x="0" y="-1.5"><tspan font-style="italic">Dcir1</tspan><tspan font-size="7" font-weight="bold" font-style="italic" dx=".6" dy="-4">-/-</tspan></text>
<text x="0" y="10.5">+DSS</text>
</g>
<line x1="82.8" y1="595.3" x2="134.7" y2="595.3" stroke="#2a2a2a" stroke-width="1.1"/>
<text x="112.3" y="609.1" font-size="13" text-anchor="middle" font-weight="bold">Cecum</text>
<line x1="144.7" y1="595.3" x2="193.3" y2="595.3" stroke="#2a2a2a" stroke-width="1.1"/>
<text x="170.4" y="609.1" font-size="13" text-anchor="middle" font-weight="bold">Colon</text>
<line x1="276.8" y1="336.5" x2="276.8" y2="551.6" stroke="#2a2a2a" stroke-width="1"/>
<line x1="273.1" y1="548.1" x2="420.7" y2="548.1" stroke="#2a2a2a" stroke-width="1"/>
<line x1="420.2" y1="548.1" x2="420.2" y2="551.6" stroke="#2a2a2a" stroke-width="1"/>
<line x1="273.8" y1="337" x2="276.8" y2="337" stroke="#2a2a2a" stroke-width="1"/>
<line x1="273.8" y1="407.3" x2="276.8" y2="407.3" stroke="#2a2a2a" stroke-width="1"/>
<line x1="273.8" y1="477.9" x2="276.8" y2="477.9" stroke="#2a2a2a" stroke-width="1"/>
<line x1="273.8" y1="548.1" x2="276.8" y2="548.1" stroke="#2a2a2a" stroke-width="1"/>
<line x1="273.8" y1="360.4" x2="276.8" y2="360.4" stroke="#2a2a2a" stroke-width="1"/>
<line x1="273.8" y1="383.9" x2="276.8" y2="383.9" stroke="#2a2a2a" stroke-width="1"/>
<line x1="273.8" y1="430.8" x2="276.8" y2="430.8" stroke="#2a2a2a" stroke-width="1"/>
<line x1="273.8" y1="454.3" x2="276.8" y2="454.3" stroke="#2a2a2a" stroke-width="1"/>
<line x1="273.8" y1="501.3" x2="276.8" y2="501.3" stroke="#2a2a2a" stroke-width="1"/>
<line x1="273.8" y1="524.8" x2="276.8" y2="524.8" stroke="#2a2a2a" stroke-width="1"/>
<text x="257" y="340.9" font-size="13" text-anchor="end" font-weight="bold">4.5</text>
<text x="247.5" y="411.2" font-size="13" text-anchor="end" font-weight="bold">3</text>
<text x="256.6" y="481.8" font-size="13" text-anchor="end" font-weight="bold">1.5</text>
<text x="264.7" y="552" font-size="13" text-anchor="end" font-weight="bold">0</text>
<text x="341.6" y="332.1" font-size="13" text-anchor="middle" font-weight="bold">TNF-<tspan font-family="Liberation Serif,serif" font-weight="normal" font-style="italic" font-size="15.5">α</tspan></text>
<text x="230.3" y="441" font-size="13" text-anchor="middle" font-weight="bold" transform="rotate(-90 230.3 441)">(ng/g tissue)</text>
<rect x="285" y="513.3" width="15" height="34.8" fill="#fff" stroke="#2a2a2a" stroke-width="1"/>
<rect x="316.5" y="530" width="15.5" height="18.1" fill="#000"/>
<rect x="348.7" y="447.4" width="14.4" height="100.7" fill="#fff" stroke="#2a2a2a" stroke-width="1"/>
<rect x="379.6" y="475.1" width="15.7" height="73" fill="#000"/>
<line x1="292.5" y1="505.8" x2="292.5" y2="520" stroke="#2a2a2a" stroke-width="0.9"/>
<line x1="289.6" y1="520" x2="295.4" y2="520" stroke="#2a2a2a" stroke-width="0.9"/>
<line x1="289.6" y1="505.8" x2="295.4" y2="505.8" stroke="#2a2a2a" stroke-width="0.9"/>
<line x1="324.2" y1="524.5" x2="324.2" y2="530" stroke="#2a2a2a" stroke-width="0.9"/>
<line x1="324.2" y1="530" x2="324.2" y2="535" stroke="#303030" stroke-width="0.8"/>
<line x1="321.4" y1="535" x2="327.1" y2="535" stroke="#303030" stroke-width="0.8"/>
<line x1="321.4" y1="524.5" x2="327.1" y2="524.5" stroke="#2a2a2a" stroke-width="0.9"/>
<line x1="355.9" y1="421.5" x2="355.9" y2="472" stroke="#2a2a2a" stroke-width="0.9"/>
<line x1="353" y1="472" x2="358.8" y2="472" stroke="#2a2a2a" stroke-width="0.9"/>
<line x1="353" y1="421.5" x2="358.8" y2="421.5" stroke="#2a2a2a" stroke-width="0.9"/>
<line x1="387.5" y1="468.4" x2="387.5" y2="475.1" stroke="#2a2a2a" stroke-width="0.9"/>
<line x1="387.5" y1="475.1" x2="387.5" y2="482" stroke="#303030" stroke-width="0.8"/>
<line x1="384.6" y1="482" x2="390.4" y2="482" stroke="#303030" stroke-width="0.8"/>
<line x1="384.6" y1="468.4" x2="390.4" y2="468.4" stroke="#2a2a2a" stroke-width="0.9"/>
<circle cx="292.5" cy="484.1" r="2.5" fill="#fff" stroke="#1c1c1c" stroke-width="1.15"/>
<circle cx="292.5" cy="504.5" r="2.5" fill="#fff" stroke="#1c1c1c" stroke-width="1.15"/>
<circle cx="292.5" cy="517" r="2.5" fill="#fff" stroke="#1c1c1c" stroke-width="1.15"/>
<circle cx="292.5" cy="521" r="2.5" fill="#fff" stroke="#1c1c1c" stroke-width="1.15"/>
<circle cx="292.5" cy="529" r="2.5" fill="#fff" stroke="#1c1c1c" stroke-width="1.15"/>
<circle cx="324.2" cy="504.3" r="2.5" fill="#fff" stroke="#1c1c1c" stroke-width="1.15"/>
<circle cx="324.2" cy="527.7" r="2.5" fill="#fff" stroke="#1c1c1c" stroke-width="1.15"/>
<circle cx="324.2" cy="534.5" r="2.5" fill="#fff" stroke="#1c1c1c" stroke-width="1.15"/>
<circle cx="324.2" cy="542.7" r="2.5" fill="#fff" stroke="#1c1c1c" stroke-width="1.15"/>
<circle cx="355.9" cy="354.2" r="2.5" fill="#fff" stroke="#1c1c1c" stroke-width="1.15"/>
<circle cx="355.9" cy="400.5" r="2.5" fill="#fff" stroke="#1c1c1c" stroke-width="1.15"/>
<circle cx="355.9" cy="456.4" r="2.5" fill="#fff" stroke="#1c1c1c" stroke-width="1.15"/>
<circle cx="355.9" cy="472.1" r="2.5" fill="#fff" stroke="#1c1c1c" stroke-width="1.15"/>
<circle cx="355.9" cy="491.6" r="2.5" fill="#fff" stroke="#1c1c1c" stroke-width="1.15"/>
<circle cx="355.9" cy="515.8" r="2.5" fill="#fff" stroke="#1c1c1c" stroke-width="1.15"/>
<circle cx="387.5" cy="448.7" r="2.5" fill="#fff" stroke="#1c1c1c" stroke-width="1.15"/>
<circle cx="387.5" cy="472.1" r="2.5" fill="#fff" stroke="#1c1c1c" stroke-width="1.15"/>
<circle cx="387.5" cy="485.1" r="2.5" fill="#fff" stroke="#1c1c1c" stroke-width="1.15"/>
<circle cx="387.5" cy="500" r="2.5" fill="#fff" stroke="#1c1c1c" stroke-width="1.15"/>
<g transform="translate(287.1 570.9) rotate(-61)" font-size="13" font-weight="bold" text-anchor="middle">
<text x="0" y="-1.5">WT</text>
<text x="0" y="10.5">+DSS</text>
</g>
<g transform="translate(320.9 572.1) rotate(-61)" font-size="13" font-weight="bold" text-anchor="middle">
<text x="0" y="-1.5"><tspan font-style="italic">Dcir1</tspan><tspan font-size="7" font-weight="bold" font-style="italic" dx=".6" dy="-4">-/-</tspan></text>
<text x="0" y="10.5">+DSS</text>
</g>
<g transform="translate(353.6 570.9) rotate(-61)" font-size="13" font-weight="bold" text-anchor="middle">
<text x="0" y="-1.5">WT</text>
<text x="0" y="10.5">+DSS</text>
</g>
<g transform="translate(385.4 572.1) rotate(-61)" font-size="13" font-weight="bold" text-anchor="middle">
<text x="0" y="-1.5"><tspan font-style="italic">Dcir1</tspan><tspan font-size="7" font-weight="bold" font-style="italic" dx=".6" dy="-4">-/-</tspan></text>
<text x="0" y="10.5">+DSS</text>
</g>
<line x1="274.6" y1="594.8" x2="334.9" y2="594.8" stroke="#2a2a2a" stroke-width="1.1"/>
<text x="307" y="608.6" font-size="13" text-anchor="middle" font-weight="bold">Cecum</text>
<line x1="343.2" y1="594.8" x2="399.8" y2="594.8" stroke="#2a2a2a" stroke-width="1.1"/>
<text x="373.6" y="608.6" font-size="13" text-anchor="middle" font-weight="bold">Colon</text>
<line x1="473.2" y1="335.8" x2="473.2" y2="552.1" stroke="#2a2a2a" stroke-width="1"/>
<line x1="469.5" y1="548.6" x2="609" y2="548.6" stroke="#2a2a2a" stroke-width="1"/>
<line x1="608.5" y1="548.6" x2="608.5" y2="552.1" stroke="#2a2a2a" stroke-width="1"/>
<line x1="469.8" y1="336.2" x2="473.2" y2="336.2" stroke="#2a2a2a" stroke-width="1"/>
<text x="464.8" y="339.3" font-size="13" text-anchor="end" font-weight="bold">4</text>
<line x1="469.8" y1="389.3" x2="473.2" y2="389.3" stroke="#2a2a2a" stroke-width="1"/>
<text x="464.8" y="392.4" font-size="13" text-anchor="end" font-weight="bold">3</text>
<line x1="469.8" y1="442.4" x2="473.2" y2="442.4" stroke="#2a2a2a" stroke-width="1"/>
<text x="464.8" y="445.5" font-size="13" text-anchor="end" font-weight="bold">2</text>
<line x1="469.8" y1="495.6" x2="473.2" y2="495.6" stroke="#2a2a2a" stroke-width="1"/>
<text x="464.8" y="498.7" font-size="13" text-anchor="end" font-weight="bold">1</text>
<line x1="469.8" y1="548.7" x2="473.2" y2="548.7" stroke="#2a2a2a" stroke-width="1"/>
<text x="464.8" y="551.8" font-size="13" text-anchor="end" font-weight="bold">0</text>
<line x1="469.9" y1="362.7" x2="473.2" y2="362.7" stroke="#2a2a2a" stroke-width="1"/>
<line x1="469.9" y1="415.9" x2="473.2" y2="415.9" stroke="#2a2a2a" stroke-width="1"/>
<line x1="469.9" y1="469" x2="473.2" y2="469" stroke="#2a2a2a" stroke-width="1"/>
<line x1="469.9" y1="522.1" x2="473.2" y2="522.1" stroke="#2a2a2a" stroke-width="1"/>
<text x="538.4" y="332.6" font-size="13" text-anchor="middle" font-weight="bold">IL-1<tspan font-family="Liberation Serif,serif" font-weight="normal" font-size="13">β</tspan></text>
<text x="446" y="443.5" font-size="13" text-anchor="middle" font-weight="bold" transform="rotate(-90 446 443.5)">(ng/g tissue)</text>
<rect x="484" y="540.6" width="13.3" height="8" fill="#fff" stroke="#2a2a2a" stroke-width="1"/>
<rect x="517.2" y="535" width="14.2" height="13.6" fill="#000"/>
<rect x="551.4" y="453.3" width="13.2" height="95.3" fill="#fff" stroke="#2a2a2a" stroke-width="1"/>
<rect x="584.8" y="485.1" width="14.2" height="63.5" fill="#000"/>
<line x1="490.6" y1="537" x2="490.6" y2="543.5" stroke="#2a2a2a" stroke-width="0.9"/>
<line x1="487.8" y1="543.5" x2="493.5" y2="543.5" stroke="#2a2a2a" stroke-width="0.9"/>
<line x1="487.8" y1="537" x2="493.5" y2="537" stroke="#2a2a2a" stroke-width="0.9"/>
<line x1="524.3" y1="532" x2="524.3" y2="535" stroke="#2a2a2a" stroke-width="0.9"/>
<line x1="524.3" y1="535" x2="524.3" y2="538" stroke="#303030" stroke-width="0.8"/>
<line x1="521.4" y1="538" x2="527.2" y2="538" stroke="#303030" stroke-width="0.8"/>
<line x1="521.4" y1="532" x2="527.2" y2="532" stroke="#2a2a2a" stroke-width="0.9"/>
<line x1="558" y1="446" x2="558" y2="469.6" stroke="#2a2a2a" stroke-width="0.9"/>
<line x1="555.1" y1="469.6" x2="560.9" y2="469.6" stroke="#2a2a2a" stroke-width="0.9"/>
<line x1="555.1" y1="446" x2="560.9" y2="446" stroke="#2a2a2a" stroke-width="0.9"/>
<line x1="591.9" y1="478.4" x2="591.9" y2="485.1" stroke="#2a2a2a" stroke-width="0.9"/>
<line x1="591.9" y1="485.1" x2="591.9" y2="492" stroke="#303030" stroke-width="0.8"/>
<line x1="589" y1="492" x2="594.8" y2="492" stroke="#303030" stroke-width="0.8"/>
<line x1="589" y1="478.4" x2="594.8" y2="478.4" stroke="#2a2a2a" stroke-width="0.9"/>
<circle cx="490.6" cy="523.8" r="2.5" fill="#fff" stroke="#1c1c1c" stroke-width="1.15"/>
<circle cx="490.6" cy="535" r="2.5" fill="#fff" stroke="#1c1c1c" stroke-width="1.15"/>
<circle cx="490.6" cy="539.8" r="2.5" fill="#fff" stroke="#1c1c1c" stroke-width="1.15"/>
<circle cx="490.6" cy="543.7" r="2.5" fill="#fff" stroke="#1c1c1c" stroke-width="1.15"/>
<circle cx="490.6" cy="547.1" r="2.5" fill="#fff" stroke="#1c1c1c" stroke-width="1.15"/>
<circle cx="524.3" cy="527" r="2.5" fill="#fff" stroke="#1c1c1c" stroke-width="1.15"/>
<circle cx="524.3" cy="532.7" r="2.5" fill="#fff" stroke="#1c1c1c" stroke-width="1.15"/>
<circle cx="524.3" cy="536.5" r="2.5" fill="#fff" stroke="#1c1c1c" stroke-width="1.15"/>
<circle cx="524.3" cy="539.5" r="2.5" fill="#fff" stroke="#1c1c1c" stroke-width="1.15"/>
<circle cx="558" cy="371.4" r="2.5" fill="#fff" stroke="#1c1c1c" stroke-width="1.15"/>
<circle cx="558" cy="431.5" r="2.5" fill="#fff" stroke="#1c1c1c" stroke-width="1.15"/>
<circle cx="558" cy="440.2" r="2.5" fill="#fff" stroke="#1c1c1c" stroke-width="1.15"/>
<circle cx="558" cy="447.9" r="2.5" fill="#fff" stroke="#1c1c1c" stroke-width="1.15"/>
<circle cx="558" cy="461.1" r="2.5" fill="#fff" stroke="#1c1c1c" stroke-width="1.15"/>
<circle cx="558" cy="473.6" r="2.5" fill="#fff" stroke="#1c1c1c" stroke-width="1.15"/>
<circle cx="558" cy="492.1" r="2.5" fill="#fff" stroke="#1c1c1c" stroke-width="1.15"/>
<circle cx="558" cy="509" r="2.5" fill="#fff" stroke="#1c1c1c" stroke-width="1.15"/>
<circle cx="591.9" cy="449.7" r="2.5" fill="#fff" stroke="#1c1c1c" stroke-width="1.15"/>
<circle cx="591.9" cy="475.9" r="2.5" fill="#fff" stroke="#1c1c1c" stroke-width="1.15"/>
<circle cx="591.9" cy="478.9" r="2.5" fill="#fff" stroke="#1c1c1c" stroke-width="1.15"/>
<circle cx="591.9" cy="484.6" r="2.5" fill="#fff" stroke="#1c1c1c" stroke-width="1.15"/>
<circle cx="591.9" cy="498.3" r="2.5" fill="#fff" stroke="#1c1c1c" stroke-width="1.15"/>
<circle cx="591.9" cy="500.8" r="2.5" fill="#fff" stroke="#1c1c1c" stroke-width="1.15"/>
<circle cx="591.9" cy="511.5" r="2.5" fill="#fff" stroke="#1c1c1c" stroke-width="1.15"/>
<g transform="translate(494.2 571.4) rotate(-61)" font-size="13" font-weight="bold" text-anchor="middle">
<text x="0" y="-1.5">WT</text>
<text x="0" y="10.5">+DSS</text>
</g>
<g transform="translate(523.1 572.6) rotate(-61)" font-size="13" font-weight="bold" text-anchor="middle">
<text x="0" y="-1.5"><tspan font-style="italic">Dcir1</tspan><tspan font-size="7" font-weight="bold" font-style="italic" dx=".6" dy="-4">-/-</tspan></text>
<text x="0" y="10.5">+DSS</text>
</g>
<g transform="translate(551.6 571.4) rotate(-61)" font-size="13" font-weight="bold" text-anchor="middle">
<text x="0" y="-1.5">WT</text>
<text x="0" y="10.5">+DSS</text>
</g>
<g transform="translate(582.9 572.6) rotate(-61)" font-size="13" font-weight="bold" text-anchor="middle">
<text x="0" y="-1.5"><tspan font-style="italic">Dcir1</tspan><tspan font-size="7" font-weight="bold" font-style="italic" dx=".6" dy="-4">-/-</tspan></text>
<text x="0" y="10.5">+DSS</text>
</g>
<line x1="489.1" y1="594.8" x2="540.6" y2="594.8" stroke="#2a2a2a" stroke-width="1.1"/>
<text x="518.3" y="608.6" font-size="13" text-anchor="middle" font-weight="bold">Cecum</text>
<line x1="550.8" y1="594.8" x2="599.6" y2="594.8" stroke="#2a2a2a" stroke-width="1.1"/>
<text x="576.1" y="608.6" font-size="13" text-anchor="middle" font-weight="bold">Colon</text>
<line x1="648.5" y1="335.1" x2="648.5" y2="550.8" stroke="#2a2a2a" stroke-width="1"/>
<line x1="644.8" y1="547.3" x2="775.8" y2="547.3" stroke="#2a2a2a" stroke-width="1"/>
<line x1="775.3" y1="547.3" x2="775.3" y2="550.8" stroke="#2a2a2a" stroke-width="1"/>
<line x1="645" y1="335.7" x2="648.5" y2="335.7" stroke="#2a2a2a" stroke-width="1"/>
<line x1="645" y1="406" x2="648.5" y2="406" stroke="#2a2a2a" stroke-width="1"/>
<line x1="645" y1="476.6" x2="648.5" y2="476.6" stroke="#2a2a2a" stroke-width="1"/>
<line x1="645" y1="547.2" x2="648.5" y2="547.2" stroke="#2a2a2a" stroke-width="1"/>
<line x1="645" y1="359.2" x2="648.5" y2="359.2" stroke="#2a2a2a" stroke-width="1"/>
<line x1="645" y1="382.7" x2="648.5" y2="382.7" stroke="#2a2a2a" stroke-width="1"/>
<line x1="645" y1="429.6" x2="648.5" y2="429.6" stroke="#2a2a2a" stroke-width="1"/>
<line x1="645" y1="453.1" x2="648.5" y2="453.1" stroke="#2a2a2a" stroke-width="1"/>
<line x1="645" y1="500.1" x2="648.5" y2="500.1" stroke="#2a2a2a" stroke-width="1"/>
<line x1="645" y1="523.6" x2="648.5" y2="523.6" stroke="#2a2a2a" stroke-width="1"/>
<text x="632" y="340.7" font-size="13" text-anchor="end" font-weight="bold">1.8</text>
<text x="632" y="411" font-size="13" text-anchor="end" font-weight="bold">1.2</text>
<text x="637" y="481.6" font-size="13" text-anchor="end" font-weight="bold">0.6</text>
<text x="640" y="552.2" font-size="13" text-anchor="end" font-weight="bold">0</text>
<text x="710.4" y="332.6" font-size="13" text-anchor="middle" font-weight="bold">IL-10</text>
<text x="608" y="442" font-size="13" text-anchor="middle" font-weight="bold" transform="rotate(-90 608 442)">(pg/g tissue)</text>
<rect x="656.8" y="542" width="15.2" height="5.3" fill="#fff" stroke="#2a2a2a" stroke-width="1"/>
<rect x="688" y="547" width="16" height="0.3" fill="#000"/>
<rect x="719.9" y="462.9" width="15.2" height="84.4" fill="#fff" stroke="#2a2a2a" stroke-width="1"/>
<rect x="750.8" y="490.1" width="16.2" height="57.2" fill="#000"/>
<line x1="664.4" y1="537" x2="664.4" y2="546" stroke="#2a2a2a" stroke-width="0.9"/>
<line x1="661.5" y1="546" x2="667.3" y2="546" stroke="#2a2a2a" stroke-width="0.9"/>
<line x1="661.5" y1="537" x2="667.3" y2="537" stroke="#2a2a2a" stroke-width="0.9"/>
<line x1="727.5" y1="450.9" x2="727.5" y2="474.6" stroke="#2a2a2a" stroke-width="0.9"/>
<line x1="724.6" y1="474.6" x2="730.4" y2="474.6" stroke="#2a2a2a" stroke-width="0.9"/>
<line x1="724.6" y1="450.9" x2="730.4" y2="450.9" stroke="#2a2a2a" stroke-width="0.9"/>
<line x1="758.9" y1="462.9" x2="758.9" y2="490.1" stroke="#2a2a2a" stroke-width="0.9"/>
<line x1="758.9" y1="490.1" x2="758.9" y2="517" stroke="#303030" stroke-width="0.8"/>
<line x1="756" y1="517" x2="761.8" y2="517" stroke="#303030" stroke-width="0.8"/>
<line x1="756" y1="462.9" x2="761.8" y2="462.9" stroke="#2a2a2a" stroke-width="0.9"/>
<circle cx="664.4" cy="517" r="2.5" fill="#fff" stroke="#1c1c1c" stroke-width="1.15"/>
<circle cx="664.4" cy="546.9" r="2.5" fill="#fff" stroke="#1c1c1c" stroke-width="1.15"/>
<circle cx="696" cy="546.9" r="2.5" fill="#fff" stroke="#1c1c1c" stroke-width="1.15"/>
<circle cx="727.5" cy="406.5" r="2.5" fill="#fff" stroke="#1c1c1c" stroke-width="1.15"/>
<circle cx="727.5" cy="453.7" r="2.5" fill="#fff" stroke="#1c1c1c" stroke-width="1.15"/>
<circle cx="727.5" cy="469.1" r="2.5" fill="#fff" stroke="#1c1c1c" stroke-width="1.15"/>
<circle cx="727.5" cy="477.1" r="2.5" fill="#fff" stroke="#1c1c1c" stroke-width="1.15"/>
<circle cx="727.5" cy="482.1" r="2.5" fill="#fff" stroke="#1c1c1c" stroke-width="1.15"/>
<circle cx="727.5" cy="492.3" r="2.5" fill="#fff" stroke="#1c1c1c" stroke-width="1.15"/>
<circle cx="758.9" cy="356.9" r="2.5" fill="#fff" stroke="#1c1c1c" stroke-width="1.15"/>
<circle cx="758.9" cy="500.8" r="2.5" fill="#fff" stroke="#1c1c1c" stroke-width="1.15"/>
<circle cx="758.9" cy="504" r="2.5" fill="#fff" stroke="#1c1c1c" stroke-width="1.15"/>
<circle cx="758.9" cy="517.8" r="2.5" fill="#fff" stroke="#1c1c1c" stroke-width="1.15"/>
<circle cx="758.9" cy="546.9" r="2.5" fill="#fff" stroke="#1c1c1c" stroke-width="1.15"/>
<g transform="translate(664 570.1) rotate(-61)" font-size="13" font-weight="bold" text-anchor="middle">
<text x="0" y="-1.5">WT</text>
<text x="0" y="10.5">+DSS</text>
</g>
<g transform="translate(692 571.3) rotate(-61)" font-size="13" font-weight="bold" text-anchor="middle">
<text x="0" y="-1.5"><tspan font-style="italic">Dcir1</tspan><tspan font-size="7" font-weight="bold" font-style="italic" dx=".6" dy="-4">-/-</tspan></text>
<text x="0" y="10.5">+DSS</text>
</g>
<g transform="translate(722.8 570.1) rotate(-61)" font-size="13" font-weight="bold" text-anchor="middle">
<text x="0" y="-1.5">WT</text>
<text x="0" y="10.5">+DSS</text>
</g>
<g transform="translate(753.6 571.3) rotate(-61)" font-size="13" font-weight="bold" text-anchor="middle">
<text x="0" y="-1.5"><tspan font-style="italic">Dcir1</tspan><tspan font-size="7" font-weight="bold" font-style="italic" dx=".6" dy="-4">-/-</tspan></text>
<text x="0" y="10.5">+DSS</text>
</g>
<line x1="647.6" y1="594.3" x2="707.9" y2="594.3" stroke="#2a2a2a" stroke-width="1.1"/>
<text x="680.5" y="608.1" font-size="13" text-anchor="middle" font-weight="bold">Cecum</text>
<line x1="716.2" y1="594.3" x2="778" y2="594.3" stroke="#2a2a2a" stroke-width="1.1"/>
<text x="746.8" y="608.1" font-size="13" text-anchor="middle" font-weight="bold">Colon</text>
<defs><filter id="bl" x="-20%" y="-20%" width="140%" height="140%"><feGaussianBlur stdDeviation="1.6"/></filter><filter id="bs" x="-20%" y="-20%" width="140%" height="140%"><feGaussianBlur stdDeviation=".9"/></filter></defs>
<defs><path id="nz" d="M26.6 12.4h.62M53.4 5.9h.62M43.9 30.0h.62M4.8 41.6h.62M3.1 35.6h.62M5.7 7.4h.62M34.8 67.8h.62M10.2 18.3h.62M51.4 77.7h.62M47.3 32.5h.62M80.1 3.8h.62M70.4 23.7h.62M11.8 9.7h.62M25.3 66.9h.62M14.8 47.7h.62M52.4 30.5h.62M44.9 5.1h.62M4.9 16.9h.62M55.8 35.1h.62M25.8 48.0h.62M37.2 24.6h.62M65.1 57.3h.62M20.0 47.1h.62M43.1 71.8h.62M59.8 23.6h.62M80.4 9.7h.62M34.3 62.1h.62M12.5 40.1h.62M3.2 54.8h.62M62.7 47.0h.62M71.8 25.7h.62M57.0 48.7h.62M47.6 37.4h.62M68.9 77.5h.62M38.9 54.5h.62M5.0 57.5h.62M53.1 81.4h.62M67.4 23.3h.62M31.6 54.8h.62M1.9 37.9h.62M13.8 9.6h.62M4.8 63.0h.62M10.6 20.3h.62M32.1 71.5h.62M6.6 36.8h.62M45.1 72.4h.62M67.2 70.8h.62M22.8 34.1h.62M29.4 72.5h.62M78.5 12.4h.62M14.4 19.0h.62M19.1 39.8h.62M48.3 21.5h.62M0.3 34.4h.62M30.3 46.4h.62M78.2 56.6h.62M42.3 50.6h.62M55.4 4.4h.62M73.8 64.0h.62M71.7 65.4h.62M32.2 32.7h.62M8.5 52.0h.62M5.1 5.5h.62M17.1 13.3h.62M27.9 4.3h.62M0.0 12.4h.62M8.3 29.8h.62M2.1 71.7h.62M50.4 12.2h.62M20.7 28.5h.62M29.9 10.1h.62M69.6 81.4h.62M38.2 39.7h.62M7.0 8.4h.62M28.1 21.7h.62M68.0 13.2h.62M1.9 78.0h.62M43.3 12.0h.62M44.5 2.2h.62M43.3 80.2h.62M70.8 57.1h.62M21.4 30.1h.62M13.7 63.3h.62M43.7 63.9h.62M27.0 18.3h.62M66.5 80.8h.62M69.9 66.1h.62M67.1 60.7h.62M18.6 42.4h.62M29.2 2.4h.62M2.3 22.9h.62M21.3 56.8h.62M78.4 36.7h.62M76.8 81.0h.62M78.3 29.9h.62M18.1 18.6h.62M16.1 16.8h.62M51.2 73.8h.62M68.9 39.3h.62M53.5 65.6h.62M7.0 54.2h.62M74.6 64.1h.62M61.5 39.2h.62M14.6 64.7h.62M27.3 65.7h.62M79.7 32.5h.62M32.9 77.6h.62M59.4 13.9h.62M10.4 12.4h.62M74.2 66.1h.62M12.0 67.8h.62M80.4 53.9h.62M28.7 45.0h.62M10.7 1.2h.62M79.6 53.3h.62M43.2 76.6h.62M35.6 71.5h.62M67.7 17.3h.62M20.7 24.0h.62M19.7 48.1h.62M21.3 34.4h.62M10.7 74.6h.62M29.0 37.6h.62M47.8 74.2h.62M34.5 75.3h.62M41.1 43.6h.62M42.9 1.5h.62M36.1 15.0h.62M0.3 65.5h.62M14.1 38.8h.62M59.5 45.6h.62M26.7 42.5h.62M45.5 64.3h.62M8.7 45.9h.62M20.4 22.7h.62M63.3 41.6h.62M46.1 62.3h.62M74.8 36.3h.62M50.2 41.5h.62M42.0 56.8h.62M37.1 43.7h.62M39.2 77.2h.62M57.3 71.9h.62M77.3 21.3h.62M45.9 77.3h.62M68.9 11.2h.62M10.0 36.3h.62M5.9 19.7h.62M6.0 54.9h.62M64.3 73.6h.62M12.7 58.7h.62M54.1 11.7h.62M72.4 79.3h.62M18.0 78.1h.62M32.7 40.0h.62M81.2 68.3h.62M13.2 35.4h.62M42.3 27.8h.62M16.1 26.1h.62M59.2 1.6h.62M45.4 36.1h.62M1.5 27.2h.62M51.2 42.0h.62M5.3 80.8h.62M64.6 79.7h.62M8.6 21.8h.62M3.2 63.9h.62M22.2 10.6h.62M34.6 74.7h.62M67.2 21.2h.62M12.2 75.4h.62M46.8 57.4h.62M7.3 4.7h.62M56.4 34.9h.62M5.9 76.9h.62M52.0 65.7h.62M6.9 70.2h.62M5.5 70.7h.62M37.2 27.8h.62M45.4 76.0h.62M22.0 10.6h.62M43.2 19.6h.62M9.0 13.2h.62M4.1 16.5h.62M25.6 25.0h.62M62.3 23.8h.62M41.0 14.6h.62M28.5 1.5h.62M20.5 1.3h.62M60.1 45.2h.62M15.5 38.9h.62M76.6 8.7h.62M67.2 35.4h.62M40.6 68.4h.62M32.2 41.5h.62M56.4 80.6h.62M28.1 68.2h.62M58.0 52.2h.62M33.2 28.5h.62M4.5 10.6h.62M5.8 60.8h.62M21.0 13.4h.62M6.9 69.0h.62M71.4 55.0h.62M23.1 19.9h.62M24.0 37.7h.62M12.9 36.6h.62M21.6 78.9h.62M79.8 44.9h.62M20.0 79.2h.62M25.4 29.2h.62M0.1 31.3h.62M38.9 41.2h.62M16.5 41.4h.62M0.4 21.7h.62M7.4 32.8h.62M3.4 1.8h.62M24.9 19.1h.62M48.0 43.4h.62M61.5 53.9h.62M58.7 72.1h.62M31.9 26.7h.62M80.7 12.3h.62M59.4 52.7h.62M3.6 68.5h.62M73.1 51.4h.62M60.2 66.6h.62M11.4 42.9h.62M41.4 68.5h.62M66.0 67.8h.62M47.9 73.2h.62M56.0 56.9h.62M18.9 2.6h.62M10.9 29.6h.62M8.6 68.5h.62M45.8 51.5h.62M51.4 55.8h.62M40.1 0.3h.62M65.4 61.4h.62M41.2 43.9h.62M54.1 5.4h.62M60.4 20.7h.62M6.1 21.8h.62M59.8 16.8h.62M60.7 80.0h.62M40.5 31.4h.62M39.3 56.1h.62M62.9 50.6h.62M52.7 6.4h.62M12.1 20.8h.62M60.9 25.0h.62M46.6 1.0h.62M5.0 22.0h.62M55.1 56.8h.62M55.4 23.9h.62M42.4 38.1h.62M38.2 9.7h.62M73.3 16.3h.62M80.2 76.8h.62M1.4 37.6h.62M67.2 79.4h.62M36.9 22.0h.62M17.2 77.5h.62M17.3 47.7h.62M11.6 43.0h.62M78.1 10.9h.62M67.3 41.7h.62M72.7 57.7h.62M19.0 73.6h.62M39.9 2.0h.62M0.3 40.3h.62M37.0 24.8h.62M11.5 28.2h.62M25.9 68.9h.62M0.1 61.6h.62M68.8 9.8h.62M76.0 58.5h.62M73.9 23.8h.62M30.5 32.2h.62M81.9 48.3h.62M29.6 35.1h.62M22.6 4.0h.62M8.3 68.4h.62M23.4 76.7h.62M20.4 21.8h.62M41.9 15.6h.62M30.6 78.4h.62M72.5 66.6h.62M51.7 74.9h.62M77.1 45.0h.62M59.0 4.1h.62M60.1 37.0h.62M61.7 52.8h.62M23.5 4.0h.62M76.0 10.4h.62M38.7 28.2h.62M24.4 60.6h.62M80.1 21.3h.62M53.8 24.7h.62M45.7 32.3h.62M13.7 13.3h.62M17.0 74.3h.62M40.8 18.0h.62M74.3 81.7h.62M36.9 11.4h.62M15.8 7.4h.62M28.0 7.5h.62M19.6 21.2h.62M46.7 72.8h.62M61.5 33.8h.62M33.9 43.0h.62M30.9 27.7h.62M5.1 22.8h.62M79.4 10.3h.62M41.3 51.6h.62M70.8 17.7h.62M22.2 20.4h.62M32.8 36.6h.62M78.2 69.6h.62M71.6 1.8h.62M2.6 58.2h.62M73.4 38.8h.62M48.1 0.0h.62M32.1 76.0h.62M67.7 70.1h.62M79.7 20.4h.62M8.9 12.7h.62M42.8 55.9h.62M77.2 59.2h.62M53.1 62.7h.62M37.5 45.2h.62M3.2 64.1h.62M19.1 75.4h.62M52.9 24.9h.62M10.5 20.6h.62M52.2 57.3h.62M9.2 5.8h.62M43.0 47.8h.62M31.8 18.3h.62M49.3 0.9h.62M24.7 37.8h.62M78.6 52.9h.62M72.5 39.0h.62M19.3 20.3h.62M78.8 57.8h.62M25.2 1.8h.62M40.9 55.3h.62M34.4 21.1h.62M54.7 75.9h.62M18.6 2.8h.62M27.7 34.5h.62M56.0 16.2h.62M65.4 60.6h.62M41.4 16.8h.62M79.5 25.6h.62M67.2 18.9h.62M18.2 62.4h.62M24.2 78.1h.62M40.7 15.4h.62M18.3 34.2h.62M54.6 77.8h.62M12.0 32.3h.62M17.5 79.9h.62M11.6 4.3h.62M4.9 32.3h.62M73.6 72.5h.62M60.1 81.8h.62M76.4 27.0h.62M15.2 76.7h.62M61.2 2.6h.62M54.5 31.0h.62M30.7 27.2h.62M13.9 0.2h.62M22.9 28.8h.62M78.4 10.1h.62M79.1 17.0h.62M29.2 67.4h.62M67.4 35.5h.62M4.0 38.8h.62M30.6 75.4h.62M15.8 29.9h.62M73.6 2.5h.62M33.7 66.6h.62M62.9 3.3h.62M2.9 5.1h.62M75.4 21.1h.62M61.3 73.7h.62M27.8 22.3h.62M78.5 50.6h.62M21.5 58.8h.62M26.0 22.6h.62M0.3 62.0h.62M75.1 52.0h.62M77.3 2.0h.62M19.2 39.0h.62M78.5 78.2h.62M31.7 20.6h.62M35.3 40.5h.62M76.1 15.0h.62M65.8 60.6h.62M67.5 63.4h.62M49.8 26.9h.62M26.2 29.7h.62M64.1 6.5h.62M16.2 61.7h.62M20.3 5.3h.62M2.8 45.3h.62M26.7 80.4h.62M72.4 81.0h.62M21.7 6.9h.62M7.9 40.9h.62M58.2 36.7h.62M19.2 34.2h.62M50.9 55.3h.62M61.3 69.5h.62M54.5 9.9h.62M69.0 24.1h.62M46.5 30.6h.62M60.5 16.3h.62M20.3 20.1h.62M12.6 72.5h.62M47.4 26.8h.62M32.5 81.4h.62M41.6 19.0h.62M66.3 53.6h.62M81.3 8.4h.62M38.9 67.2h.62M68.9 75.0h.62M3.3 24.1h.62M9.8 15.5h.62M79.8 47.8h.62M76.3 30.5h.62M71.0 36.8h.62M21.3 63.8h.62M77.5 8.7h.62M48.9 50.8h.62M17.8 30.2h.62M11.6 16.7h.62M20.9 49.2h.62M53.4 16.7h.62M0.9 26.8h.62M55.6 15.2h.62M25.6 16.7h.62M65.2 44.9h.62M5.2 8.3h.62M32.4 45.1h.62M52.4 7.5h.62M13.4 57.0h.62M33.6 23.2h.62M25.2 78.2h.62M25.6 46.5h.62M29.3 34.1h.62M70.9 81.7h.62M29.8 16.2h.62M59.7 16.7h.62M0.5 73.9h.62M34.7 67.3h.62M33.3 72.4h.62M37.8 13.3h.62M1.2 45.2h.62M52.5 74.6h.62M7.3 51.0h.62M30.4 41.4h.62M12.0 23.2h.62M42.7 75.9h.62M8.9 40.2h.62M66.0 79.3h.62M16.2 10.4h.62M77.3 80.0h.62M39.6 4.4h.62M75.9 31.8h.62M74.1 50.9h.62M67.6 13.1h.62M64.4 18.2h.62M33.2 69.4h.62M68.0 15.0h.62M17.9 32.8h.62M42.5 31.5h.62M10.1 20.3h.62M59.4 73.6h.62M3.4 46.1h.62M62.1 3.1h.62M68.7 9.7h.62M49.2 45.1h.62M51.4 25.1h.62M34.4 47.8h.62M34.9 54.0h.62M36.6 35.9h.62M1.9 50.7h.62M40.1 19.3h.62M62.6 64.0h.62M37.6 14.7h.62M38.8 8.8h.62M10.5 35.3h.62M7.5 36.2h.62M41.8 3.3h.62M52.2 6.7h.62M60.1 63.8h.62M41.9 4.4h.62M41.3 31.0h.62M78.0 11.2h.62M70.3 81.7h.62M60.0 66.8h.62M15.9 80.5h.62M40.3 78.4h.62M75.1 13.5h.62M64.6 76.3h.62M5.4 28.8h.62M62.0 13.0h.62M73.5 22.5h.62M66.9 11.8h.62M41.2 75.4h.62M17.1 21.6h.62M41.5 26.2h.62M3.0 14.9h.62M13.2 76.8h.62M55.7 73.4h.62M13.8 64.4h.62M9.4 43.5h.62M52.2 29.5h.62M71.6 45.5h.62M47.6 72.4h.62M8.6 81.4h.62M51.6 32.3h.62M65.4 21.7h.62M81.2 47.3h.62M29.5 62.7h.62M36.3 14.5h.62M61.0 4.0h.62M67.2 20.8h.62M52.4 80.7h.62M48.0 54.4h.62M25.6 0.1h.62M2.8 12.2h.62M50.5 35.4h.62M42.0 73.4h.62M10.8 18.6h.62M53.6 1.8h.62M0.2 29.1h.62M8.7 29.3h.62M18.4 47.9h.62M48.3 16.7h.62M51.2 38.9h.62M11.0 76.8h.62M20.0 12.2h.62M7.9 52.3h.62M71.4 64.1h.62M33.0 21.7h.62M0.9 52.9h.62M46.1 28.7h.62M52.9 36.4h.62M76.8 60.1h.62M20.4 74.1h.62M3.6 43.6h.62M33.3 19.5h.62M4.8 63.9h.62M1.0 45.2h.62M77.2 11.7h.62M16.4 49.9h.62M41.6 52.6h.62M66.7 14.3h.62M25.4 24.6h.62M4.0 72.9h.62M64.2 58.7h.62M0.5 69.2h.62M61.1 38.2h.62M60.8 37.1h.62M18.5 8.6h.62M19.0 3.2h.62M27.5 61.5h.62M57.0 69.3h.62M58.4 21.8h.62M45.4 35.8h.62M64.7 42.9h.62M21.8 52.6h.62M79.1 17.8h.62M72.2 1.2h.62M21.4 19.4h.62M61.0 77.5h.62M61.2 26.8h.62M72.2 26.9h.62M19.6 74.4h.62M51.7 56.8h.62M54.5 80.3h.62M38.5 68.9h.62M57.2 70.3h.62M35.9 59.4h.62M46.8 25.2h.62M17.4 51.1h.62M6.4 74.7h.62M11.9 2.2h.62M8.7 76.2h.62M28.3 11.6h.62M2.4 3.4h.62M56.8 52.0h.62M57.2 60.4h.62M5.4 48.4h.62M29.8 67.0h.62M67.2 73.1h.62M5.4 71.2h.62M75.0 77.4h.62M8.8 16.9h.62M9.2 2.8h.62M69.5 66.6h.62M52.0 67.7h.62M51.8 23.6h.62M8.2 8.0h.62M62.1 16.8h.62M26.2 34.7h.62M1.7 21.0h.62M23.2 58.7h.62M30.2 26.3h.62M79.0 41.3h.62M69.8 50.7h.62M2.5 33.9h.62M35.8 63.4h.62M28.4 57.8h.62M44.1 17.8h.62M70.7 7.5h.62M67.2 14.0h.62M0.1 16.6h.62M62.5 80.2h.62M0.4 40.2h.62M40.3 65.3h.62M15.1 40.6h.62M28.5 68.2h.62M21.4 77.4h.62M23.3 17.6h.62M57.4 40.9h.62M9.0 52.2h.62M6.6 64.6h.62M57.2 64.5h.62M51.5 29.2h.62M32.9 32.4h.62M73.0 7.1h.62M72.9 2.1h.62M16.9 21.6h.62M73.9 41.1h.62M31.1 72.5h.62M19.2 37.8h.62M43.6 61.9h.62M61.7 53.0h.62M28.6 26.8h.62M12.7 69.1h.62M54.3 60.8h.62M13.9 36.0h.62M63.4 47.5h.62M10.3 37.9h.62M72.6 19.5h.62M15.7 24.7h.62M57.7 69.2h.62M12.7 12.8h.62M20.3 26.8h.62M42.8 13.2h.62M26.9 15.5h.62M80.0 59.8h.62M8.3 78.9h.62M8.3 31.5h.62M80.7 65.2h.62M60.1 35.7h.62M16.1 52.3h.62M8.8 16.9h.62M31.8 2.8h.62M32.7 64.9h.62M56.9 41.0h.62M51.9 38.0h.62M11.6 49.5h.62M33.2 60.8h.62M74.5 35.3h.62M47.1 61.4h.62M34.5 18.7h.62M59.2 72.2h.62M63.5 57.4h.62M69.9 55.7h.62M52.6 37.2h.62M25.7 51.5h.62M8.0 34.4h.62M64.2 58.5h.62M51.6 20.5h.62M34.7 37.3h.62M51.0 33.6h.62M55.4 76.3h.62M15.0 53.7h.62M63.8 31.9h.62M40.2 79.9h.62M3.1 44.6h.62M13.2 64.1h.62M77.1 42.6h.62M8.3 47.1h.62M44.4 58.8h.62M42.0 52.4h.62M68.0 42.8h.62M33.6 77.7h.62M17.2 56.1h.62M32.2 62.5h.62M10.0 80.7h.62M29.1 4.6h.62M22.5 32.8h.62M1.1 34.3h.62M34.5 57.3h.62M28.9 21.7h.62M18.4 60.8h.62M77.1 43.2h.62M18.0 65.7h.62M32.1 17.4h.62M10.6 63.7h.62M66.4 52.0h.62M38.5 46.1h.62M18.5 79.0h.62M29.0 52.4h.62M67.1 66.9h.62M38.4 24.1h.62M45.0 10.3h.62M68.4 29.1h.62M69.8 21.9h.62M30.8 20.8h.62M34.9 15.2h.62M0.2 59.2h.62M23.1 20.1h.62M24.7 39.3h.62M35.1 52.3h.62M54.1 29.7h.62M76.2 70.1h.62M4.7 67.9h.62M74.3 64.3h.62M11.5 68.2h.62M51.9 1.2h.62M0.9 78.0h.62M53.8 20.5h.62M8.3 11.7h.62M19.2 63.7h.62M28.4 12.5h.62M74.1 64.9h.62M13.8 73.1h.62M49.9 64.1h.62M54.8 73.3h.62M64.6 68.8h.62M16.2 56.8h.62M43.5 60.8h.62M36.0 72.4h.62M45.5 21.7h.62M19.2 11.4h.62M40.4 4.8h.62M38.3 11.8h.62M40.3 40.9h.62M44.2 70.8h.62M0.5 68.9h.62M38.4 46.1h.62M54.6 68.9h.62M30.7 34.3h.62M78.8 6.2h.62M52.2 52.2h.62M2.3 50.0h.62M56.0 76.4h.62M27.1 80.5h.62M41.9 39.7h.62M73.6 2.8h.62M58.9 51.3h.62M27.8 70.7h.62M30.0 38.9h.62M43.1 63.2h.62M17.3 35.7h.62M34.6 45.4h.62M67.8 24.0h.62M67.9 33.1h.62M41.3 22.3h.62M41.5 79.9h.62M53.7 64.9h.62M27.1 26.0h.62M24.5 48.1h.62M52.1 64.3h.62M3.3 59.3h.62M72.6 44.7h.62M4.1 24.6h.62M0.5 15.6h.62M75.6 49.9h.62M54.0 64.7h.62M74.6 50.2h.62M50.6 51.4h.62M57.1 48.9h.62M55.8 17.4h.62M54.7 37.5h.62M62.5 8.3h.62M14.9 3.0h.62M63.5 75.0h.62M53.8 30.2h.62M67.5 64.5h.62M46.1 21.2h.62M24.8 34.6h.62M26.1 35.3h.62M52.6 76.6h.62M4.5 46.5h.62M3.2 9.7h.62M66.4 47.2h.62M75.3 36.6h.62M1.2 31.7h.62M48.5 76.9h.62M80.4 39.0h.62M33.8 8.4h.62M52.8 17.4h.62M12.4 1.3h.62M0.4 56.1h.62M10.0 79.2h.62M7.2 71.3h.62M10.6 1.5h.62M59.0 19.9h.62M60.2 15.4h.62M4.1 63.5h.62M58.5 70.2h.62M59.8 6.9h.62M51.5 58.2h.62M37.8 76.5h.62M20.8 79.1h.62M58.8 0.9h.62M1.2 53.4h.62M67.0 6.5h.62M25.5 59.8h.62M13.6 70.6h.62M39.9 4.9h.62M30.1 47.1h.62M36.0 55.5h.62M11.9 65.4h.62M29.8 52.9h.62M51.6 34.3h.62M31.6 64.5h.62M77.5 64.3h.62M46.5 24.0h.62M5.0 79.9h.62M57.7 67.8h.62M27.2 49.7h.62M80.2 68.2h.62M49.3 25.3h.62M35.1 72.8h.62M30.9 56.2h.62M49.3 73.5h.62M66.2 23.2h.62M0.1 21.6h.62M34.6 48.1h.62M66.9 72.8h.62M3.5 68.3h.62M66.6 71.1h.62M46.9 22.5h.62M69.8 66.2h.62M56.1 74.9h.62M28.4 7.0h.62M45.4 65.4h.62M16.4 61.5h.62M76.4 19.2h.62M49.8 55.6h.62M38.2 16.9h.62M20.9 61.6h.62M64.9 37.7h.62M7.2 66.1h.62M63.3 19.1h.62M47.5 73.5h.62M72.6 42.8h.62M39.1 48.3h.62M15.5 15.8h.62M14.8 57.5h.62M29.8 46.3h.62M33.0 42.4h.62M12.2 3.7h.62M81.8 30.7h.62M8.7 51.9h.62M64.6 12.8h.62M49.0 28.3h.62M42.6 1.7h.62M2.8 81.2h.62M71.0 39.9h.62M46.5 21.5h.62M63.9 34.9h.62M77.6 62.9h.62M67.1 79.0h.62M20.8 3.1h.62M16.5 14.8h.62M6.9 4.2h.62M45.7 71.4h.62M37.6 77.7h.62M74.6 5.3h.62M49.0 32.6h.62M9.8 78.7h.62M21.1 46.3h.62M52.5 78.4h.62M54.9 32.2h.62M36.8 13.1h.62M79.2 81.3h.62M18.2 3.2h.62M21.0 28.9h.62M74.0 74.2h.62M68.7 3.9h.62M64.5 58.2h.62M53.0 80.8h.62M4.6 11.9h.62M61.9 77.0h.62M55.5 24.5h.62M48.5 62.1h.62M8.6 26.6h.62M21.1 10.2h.62M39.5 13.8h.62M19.6 11.7h.62M55.6 1.0h.62M58.8 16.0h.62M3.0 76.1h.62M18.1 76.6h.62M71.1 72.9h.62M11.5 36.7h.62M8.0 76.2h.62M69.1 51.5h.62M37.1 27.9h.62M67.5 39.2h.62M51.5 11.7h.62M18.2 4.7h.62M58.5 45.4h.62M11.9 71.4h.62M21.8 33.8h.62M12.8 22.2h.62M68.8 27.4h.62M13.8 40.3h.62M26.1 74.1h.62M9.4 80.2h.62M4.7 73.4h.62M54.8 17.3h.62M39.2 23.5h.62M21.1 16.5h.62M29.9 81.3h.62M81.8 75.9h.62M8.0 23.7h.62M73.5 4.7h.62M59.6 24.1h.62M80.2 1.3h.62M66.2 28.0h.62M11.5 0.2h.62M68.2 43.2h.62M15.2 35.7h.62M74.8 17.9h.62M46.8 11.3h.62M14.8 63.2h.62M58.4 16.1h.62M6.5 7.2h.62M49.9 40.6h.62M22.5 16.9h.62M50.2 58.0h.62M66.5 47.8h.62M16.6 5.4h.62M60.1 33.5h.62M59.2 4.5h.62M66.5 27.5h.62M69.0 70.9h.62M40.4 1.3h.62M74.6 39.1h.62M71.5 21.8h.62M15.3 68.2h.62M30.1 13.4h.62M30.4 48.8h.62M0.4 42.6h.62M36.6 42.3h.62M9.9 58.6h.62M67.0 71.0h.62M26.3 58.3h.62M31.3 61.6h.62M5.0 71.6h.62M78.2 40.6h.62M42.1 43.5h.62M44.1 1.7h.62M79.3 18.3h.62M15.0 8.4h.62M20.5 67.0h.62M2.5 7.9h.62M57.3 16.0h.62M1.5 49.2h.62M47.3 42.9h.62M57.6 8.4h.62M71.3 58.8h.62M3.7 10.1h.62M40.5 41.1h.62M22.9 10.0h.62M33.3 11.2h.62M48.5 70.6h.62M12.1 47.0h.62M61.2 13.5h.62M67.7 76.9h.62M31.9 34.5h.62M68.9 43.1h.62M32.4 77.2h.62M63.7 27.8h.62M19.7 27.5h.62M35.7 80.5h.62M66.0 74.8h.62M66.8 69.5h.62M4.4 42.4h.62M78.5 76.6h.62M20.4 34.6h.62M51.9 29.9h.62M43.5 5.7h.62M35.5 41.4h.62M1.7 11.4h.62M79.5 63.7h.62M76.8 51.9h.62M66.4 72.5h.62M72.5 2.8h.62M52.6 21.8h.62M55.6 22.4h.62M44.5 75.8h.62M50.9 20.5h.62M42.7 35.6h.62M78.0 23.6h.62M25.0 53.1h.62M9.9 48.7h.62M78.4 42.1h.62M22.0 38.2h.62M43.8 12.2h.62M10.2 10.8h.62M24.1 33.3h.62M23.6 20.0h.62M7.2 44.8h.62M68.9 50.0h.62M46.8 53.3h.62M16.5 58.2h.62M37.8 44.9h.62M50.2 38.5h.62M25.5 19.9h.62M18.2 42.0h.62M31.4 48.0h.62M1.0 28.9h.62M70.7 19.6h.62M45.6 40.3h.62M23.4 81.0h.62M24.2 63.3h.62M13.0 5.5h.62M71.4 36.1h.62M5.1 31.8h.62M36.1 60.3h.62M9.0 18.5h.62M78.7 60.6h.62M12.7 27.6h.62M28.9 55.4h.62M50.5 69.7h.62M67.3 42.5h.62M60.6 60.9h.62M62.3 39.0h.62M64.4 58.1h.62M75.0 10.4h.62M71.4 0.4h.62M62.8 48.0h.62M40.8 78.9h.62M46.9 34.3h.62M64.3 71.6h.62M49.8 31.1h.62M37.1 37.5h.62M59.3 24.0h.62M32.0 45.5h.62M31.5 26.4h.62M64.5 69.7h.62M41.0 36.4h.62M15.1 24.9h.62M11.9 47.2h.62M47.7 7.2h.62M75.5 26.6h.62M69.2 68.7h.62M78.6 16.8h.62M35.0 74.7h.62M0.9 3.9h.62M46.3 40.8h.62M75.5 63.4h.62M44.2 81.9h.62M42.4 42.4h.62M56.2 31.9h.62M29.3 48.8h.62M28.8 77.7h.62M55.5 43.1h.62M8.1 30.7h.62M32.9 46.0h.62M47.1 72.1h.62M79.1 39.9h.62M36.1 51.2h.62M81.7 28.1h.62M43.5 66.9h.62M14.0 26.1h.62M80.2 67.7h.62M42.0 9.1h.62M73.3 56.6h.62M67.3 81.2h.62M72.8 34.5h.62M12.8 23.8h.62M42.0 41.4h.62M15.4 15.0h.62M51.7 49.5h.62M29.0 81.5h.62M52.2 3.5h.62M33.7 64.6h.62M25.2 56.6h.62M0.3 25.0h.62M69.1 48.1h.62M54.8 16.1h.62M40.8 45.4h.62M21.8 53.0h.62M43.6 81.8h.62M47.1 33.7h.62M10.0 12.9h.62M62.3 8.7h.62M8.2 14.0h.62M42.8 67.5h.62M50.3 66.1h.62M5.1 1.0h.62M63.2 26.5h.62M58.7 29.0h.62M13.9 21.9h.62M8.2 74.1h.62M47.7 28.6h.62M36.9 31.6h.62M4.5 73.0h.62M47.8 78.7h.62M36.1 50.9h.62M20.4 3.6h.62M76.3 70.1h.62M25.8 73.7h.62M66.9 24.9h.62M49.4 78.7h.62M40.6 77.9h.62M19.9 32.0h.62M58.9 18.2h.62M25.4 71.8h.62M39.7 65.0h.62M20.0 14.2h.62M29.4 15.3h.62M79.7 23.8h.62M46.0 9.4h.62M43.8 31.6h.62M33.1 5.4h.62M10.1 67.7h.62M28.8 20.1h.62M15.7 23.3h.62M19.4 2.9h.62M54.5 28.0h.62M12.8 57.9h.62M7.6 22.1h.62M68.5 10.5h.62M36.4 68.6h.62M66.0 13.1h.62M28.9 59.2h.62M30.9 78.6h.62M17.1 78.0h.62M41.4 18.6h.62M37.1 10.7h.62M57.9 21.4h.62M73.8 48.2h.62M30.2 20.2h.62M49.9 17.4h.62M71.5 10.1h.62M42.1 44.5h.62M22.2 63.3h.62M31.6 53.9h.62M46.5 25.5h.62M32.0 7.1h.62M14.5 69.8h.62M26.3 54.3h.62M8.9 46.1h.62M29.6 41.0h.62M24.4 5.4h.62M25.5 18.6h.62M10.3 58.8h.62M23.2 33.1h.62M74.5 63.5h.62M72.4 70.6h.62M10.8 22.7h.62M2.4 55.7h.62M54.4 28.8h.62M33.8 54.0h.62M57.3 20.4h.62M69.4 28.9h.62M51.6 14.9h.62M9.4 74.8h.62M60.2 58.4h.62M3.3 3.3h.62M13.3 16.2h.62M24.9 31.2h.62M3.2 25.5h.62M52.3 14.7h.62M68.8 46.8h.62M58.8 20.9h.62M35.7 56.1h.62M28.6 0.1h.62M68.4 63.7h.62M23.5 3.5h.62M70.0 49.8h.62M3.9 20.0h.62M9.1 64.9h.62M17.2 75.0h.62M61.5 7.1h.62M57.0 32.3h.62M61.3 68.0h.62M23.1 7.4h.62M77.6 34.8h.62M76.3 56.7h.62M60.6 68.1h.62M51.5 37.1h.62M4.5 57.3h.62M35.1 42.0h.62M76.1 10.5h.62M62.5 3.6h.62M57.6 66.1h.62M21.4 44.8h.62M79.5 52.3h.62M44.6 20.5h.62M4.9 29.3h.62M33.8 16.5h.62M25.5 11.2h.62M58.0 55.0h.62M19.5 19.8h.62M42.3 36.5h.62M76.7 28.8h.62M24.5 72.5h.62M11.6 46.2h.62M27.4 66.9h.62M45.0 62.4h.62M13.9 54.7h.62M49.1 37.8h.62M62.8 68.2h.62M9.4 23.7h.62M29.6 16.9h.62M4.9 23.0h.62M16.2 57.5h.62M36.7 9.3h.62M26.6 38.4h.62M29.8 13.8h.62M5.9 0.9h.62M81.4 61.5h.62M6.9 58.8h.62M80.4 46.2h.62M8.9 40.1h.62M35.6 15.6h.62M44.5 0.7h.62M75.4 52.8h.62M51.5 76.7h.62M53.5 20.6h.62M20.2 11.4h.62M2.3 63.5h.62M68.8 24.3h.62M15.2 52.3h.62M69.3 76.0h.62M13.8 64.3h.62M68.1 60.9h.62M26.8 15.1h.62M67.7 26.3h.62M30.2 45.2h.62M30.3 68.2h.62M19.6 3.4h.62M46.5 51.5h.62M67.2 57.9h.62M74.2 77.5h.62M40.5 41.0h.62M12.9 24.6h.62M47.7 6.6h.62M56.4 13.4h.62M36.3 79.5h.62M7.4 3.3h.62M36.0 15.6h.62M59.3 0.2h.62M68.9 70.1h.62M64.5 34.9h.62M23.2 54.3h.62M42.2 34.5h.62M27.8 36.0h.62M54.6 67.7h.62M74.1 13.5h.62M24.3 36.3h.62M46.2 28.5h.62M16.0 7.0h.62M26.5 37.8h.62M79.6 74.5h.62M71.0 79.9h.62M78.9 50.8h.62M66.5 4.9h.62M55.5 50.0h.62M24.4 46.8h.62M78.1 39.4h.62M53.1 24.5h.62M28.2 72.6h.62M2.3 15.5h.62M55.7 36.7h.62M7.0 54.2h.62M30.5 47.6h.62M34.1 43.5h.62M46.3 32.5h.62M9.4 14.8h.62M73.0 44.9h.62M9.2 70.7h.62M20.8 7.8h.62M43.5 20.6h.62M40.1 45.4h.62M18.6 47.0h.62M9.3 42.1h.62M48.3 6.6h.62M33.5 6.0h.62M36.0 70.8h.62M45.1 58.6h.62M62.1 9.4h.62M81.2 59.2h.62M8.4 68.1h.62M32.1 14.0h.62M78.7 46.2h.62M63.5 11.2h.62M63.6 4.7h.62M19.4 30.5h.62M1.2 48.7h.62M17.5 24.6h.62M58.0 34.9h.62M72.9 50.9h.62M71.5 46.2h.62M75.2 71.4h.62M13.8 61.1h.62M28.0 62.6h.62M55.8 67.7h.62M10.1 30.6h.62M60.5 77.7h.62M59.2 3.6h.62M49.5 8.2h.62M45.0 65.8h.62M9.3 75.9h.62M55.4 20.9h.62M15.8 36.6h.62M68.7 47.7h.62M9.3 1.7h.62M9.1 65.7h.62M15.2 45.4h.62M23.8 56.3h.62M31.2 11.8h.62M71.8 44.2h.62M56.5 66.3h.62M77.8 1.1h.62M28.1 12.4h.62M41.1 71.6h.62M65.6 2.9h.62M14.9 67.1h.62M55.7 32.2h.62M39.0 13.0h.62M69.3 32.3h.62M71.6 50.1h.62M6.2 27.0h.62M17.7 73.3h.62M48.3 3.6h.62M13.9 29.6h.62M38.4 47.3h.62M31.8 29.0h.62M0.5 47.5h.62M27.4 1.7h.62M37.7 80.9h.62M3.7 12.0h.62M55.0 22.4h.62M22.4 41.0h.62M21.5 46.7h.62M43.3 78.5h.62M81.4 2.8h.62M46.0 63.2h.62M71.5 63.5h.62M51.9 52.0h.62M29.8 23.1h.62M65.2 71.6h.62M77.0 55.9h.62M24.9 62.6h.62M60.6 41.7h.62M52.1 28.7h.62M45.2 33.3h.62M5.0 27.7h.62M26.5 81.1h.62M39.5 30.1h.62M20.0 19.3h.62M28.6 11.1h.62M0.6 71.4h.62M37.2 36.5h.62M46.6 24.8h.62M13.9 5.4h.62M24.7 25.3h.62M59.6 45.2h.62M76.9 27.9h.62M75.5 47.8h.62M6.6 14.7h.62M47.6 81.0h.62M29.3 63.5h.62M35.1 71.2h.62M5.6 39.7h.62M73.7 22.6h.62M21.1 1.9h.62M13.5 22.0h.62M57.8 17.9h.62M32.8 16.4h.62M49.4 70.9h.62M53.1 16.1h.62M60.2 79.0h.62M49.3 6.5h.62M66.4 71.8h.62M28.0 11.2h.62M15.4 44.0h.62M71.8 52.5h.62M75.7 17.4h.62M26.8 61.4h.62M53.2 33.2h.62M55.7 27.7h.62M4.7 34.0h.62M3.7 51.4h.62M27.4 40.5h.62M49.0 21.1h.62M38.0 1.1h.62M75.9 46.3h.62M81.0 4.6h.62M50.3 59.4h.62M27.0 7.7h.62M12.8 11.7h.62M62.9 7.4h.62M66.7 34.7h.62M44.2 48.3h.62M45.5 53.9h.62M49.3 27.1h.62M60.8 21.1h.62M58.3 62.6h.62M63.6 25.4h.62M63.4 80.1h.62M37.2 22.8h.62M42.9 77.2h.62M10.8 0.7h.62M39.0 53.7h.62M63.5 29.7h.62M81.1 18.7h.62M62.0 7.4h.62M2.3 11.0h.62M4.9 41.2h.62M45.5 14.9h.62M77.1 30.0h.62M12.2 14.5h.62M60.5 75.6h.62M13.3 2.4h.62M63.8 19.9h.62M80.6 40.9h.62M52.2 28.2h.62M65.6 37.7h.62M26.6 74.1h.62M8.8 60.1h.62M5.4 52.9h.62M33.0 70.9h.62M4.9 46.3h.62M33.6 75.4h.62M77.5 51.4h.62M18.4 20.7h.62M21.5 35.6h.62M19.0 16.7h.62M62.3 52.7h.62M24.5 81.5h.62M17.8 46.7h.62M12.9 70.8h.62M71.3 21.9h.62M61.6 67.5h.62M23.2 27.2h.62M39.8 73.1h.62M13.3 56.0h.62M49.0 37.1h.62M47.5 72.4h.62M17.2 72.5h.62M29.5 63.9h.62M70.8 14.9h.62M70.8 81.6h.62M24.4 2.0h.62M9.1 79.9h.62M0.8 74.8h.62M12.4 60.4h.62M8.0 13.8h.62M56.0 7.4h.62M27.8 75.3h.62M58.7 72.3h.62M80.3 2.7h.62M19.2 65.0h.62M56.5 3.1h.62M41.4 19.0h.62M35.3 8.6h.62M1.6 81.2h.62M26.0 72.0h.62M9.9 40.0h.62M11.1 35.1h.62M14.7 56.2h.62M12.1 60.5h.62M41.1 9.2h.62M29.0 40.7h.62M75.3 28.7h.62M17.6 79.3h.62M72.4 60.0h.62M22.4 14.5h.62M21.7 5.7h.62M3.5 41.7h.62M33.5 45.6h.62M29.7 0.9h.62M56.4 53.6h.62M44.6 45.0h.62M56.6 80.6h.62M71.7 58.9h.62M32.7 26.1h.62M34.4 79.8h.62M31.7 31.6h.62M33.6 11.7h.62M81.9 0.4h.62M49.8 76.0h.62M20.9 50.1h.62M30.9 19.7h.62M16.3 9.5h.62M69.1 64.3h.62M74.5 4.1h.62M56.9 26.6h.62M53.0 45.0h.62M25.9 79.7h.62M0.1 61.2h.62M70.0 41.8h.62M48.6 81.6h.62M19.2 51.6h.62M61.0 31.1h.62M58.4 32.3h.62M43.2 50.3h.62M55.5 26.4h.62M51.6 44.5h.62M18.3 50.2h.62M21.7 74.5h.62M38.8 59.2h.62M42.8 39.1h.62M18.1 11.7h.62M76.0 43.4h.62M43.0 43.3h.62M66.7 19.6h.62M14.1 67.4h.62M37.7 52.5h.62M67.9 73.3h.62M71.2 3.5h.62M31.3 68.2h.62M67.1 10.1h.62M12.6 20.6h.62M8.4 29.2h.62M65.9 42.8h.62M37.1 7.2h.62M32.4 81.8h.62M57.0 36.8h.62M39.2 65.5h.62M62.2 12.3h.62M55.8 30.1h.62M42.7 19.5h.62M30.4 27.9h.62M31.3 1.5h.62M16.5 46.8h.62M4.7 14.6h.62M58.9 22.5h.62M26.6 19.8h.62M68.4 7.5h.62M52.2 70.4h.62M16.5 34.7h.62M65.0 50.7h.62M30.5 3.6h.62M36.3 30.1h.62M58.4 24.2h.62M33.4 53.2h.62M66.5 28.9h.62M31.6 47.5h.62M75.8 15.7h.62M79.7 58.4h.62M30.5 54.6h.62M27.0 5.8h.62M62.0 31.1h.62M43.1 40.7h.62M73.9 62.1h.62M2.1 48.6h.62M37.9 37.9h.62M68.8 34.0h.62M38.8 73.0h.62M36.1 40.3h.62M42.0 67.6h.62M55.0 60.7h.62M32.9 3.3h.62M55.7 45.4h.62M63.1 63.1h.62M9.7 18.1h.62M6.3 67.0h.62M8.3 7.2h.62M61.8 46.3h.62M4.5 55.8h.62M58.3 39.6h.62M4.5 56.7h.62M34.3 47.9h.62M81.8 67.0h.62M71.5 11.9h.62M27.4 42.5h.62M0.5 81.1h.62M22.5 21.5h.62M25.7 20.9h.62M70.4 45.6h.62M41.9 34.5h.62M4.2 25.0h.62M71.1 65.8h.62M70.2 21.1h.62M16.6 4.3h.62M44.0 30.7h.62M38.1 40.1h.62M47.9 30.0h.62M65.7 16.4h.62M75.4 45.6h.62M4.2 25.8h.62M43.7 33.5h.62M46.3 26.5h.62M22.4 65.3h.62M23.9 58.3h.62M65.8 48.6h.62M37.3 76.7h.62M36.5 72.0h.62M4.7 35.6h.62M52.4 4.0h.62M70.7 5.9h.62M48.9 14.8h.62M75.6 46.0h.62M65.7 40.9h.62M55.3 55.3h.62M24.2 17.3h.62M68.7 12.0h.62M75.3 17.0h.62M8.3 7.8h.62M64.3 78.0h.62M34.0 54.0h.62M21.1 74.3h.62M56.2 12.7h.62M4.6 57.0h.62M3.4 68.6h.62M24.1 19.1h.62M47.7 26.1h.62M46.0 12.6h.62M74.8 26.6h.62M69.0 12.5h.62M65.5 80.4h.62M32.1 2.7h.62M31.2 52.5h.62M18.3 44.7h.62M7.7 38.1h.62M59.7 35.2h.62M55.7 9.4h.62M67.9 10.0h.62M75.7 81.7h.62M77.0 43.2h.62M23.8 28.5h.62M61.5 40.7h.62M76.2 7.6h.62M39.7 70.8h.62M49.0 44.3h.62M7.3 11.5h.62M22.2 73.2h.62M69.3 18.6h.62M75.8 2.7h.62M49.1 79.3h.62M28.2 77.4h.62M53.8 4.1h.62M27.3 36.9h.62M20.3 60.9h.62M14.7 64.6h.62M24.5 5.7h.62M45.9 7.8h.62M45.2 64.6h.62M48.8 37.8h.62M2.8 42.1h.62M8.0 53.0h.62M10.8 47.4h.62M28.9 30.7h.62M54.4 13.4h.62M13.9 77.2h.62M27.2 69.1h.62M71.6 39.4h.62M12.2 7.7h.62M72.1 9.6h.62M40.7 44.0h.62M9.6 38.4h.62M13.5 43.9h.62M41.6 30.1h.62M16.2 33.1h.62M16.7 10.4h.62M19.7 71.5h.62M41.1 73.0h.62M1.2 77.4h.62M40.0 64.9h.62M46.8 56.5h.62M18.8 61.5h.62M12.6 21.7h.62M2.5 32.2h.62M42.5 23.9h.62M73.0 6.9h.62M47.4 19.2h.62M48.8 64.3h.62M58.3 5.1h.62M20.2 49.1h.62M80.6 3.4h.62M50.7 56.7h.62M66.8 28.0h.62M66.5 37.9h.62M75.5 0.9h.62M77.1 33.8h.62M33.4 7.2h.62M20.1 60.2h.62M55.7 12.4h.62M28.2 11.5h.62M16.3 18.0h.62M27.1 80.0h.62M81.8 64.9h.62M39.3 40.8h.62M63.9 74.5h.62M61.6 52.2h.62M16.3 51.3h.62M69.3 64.5h.62M7.6 58.8h.62M28.6 13.3h.62M79.2 55.2h.62M61.1 11.1h.62M67.9 76.8h.62M74.2 61.1h.62M68.3 65.8h.62M48.4 35.7h.62M67.7 64.3h.62M71.4 24.5h.62M78.8 43.6h.62M77.6 9.5h.62M79.4 64.6h.62M20.7 68.7h.62M19.0 16.2h.62M37.5 19.4h.62M40.4 74.5h.62M56.2 58.3h.62M32.1 64.3h.62M65.1 56.0h.62M77.2 67.7h.62M33.3 7.1h.62M53.5 68.6h.62M27.8 48.8h.62M68.6 65.0h.62M0.4 40.1h.62M1.3 9.1h.62M66.6 34.3h.62M49.6 37.5h.62M27.5 17.5h.62M29.0 69.3h.62M50.8 24.0h.62M7.2 22.2h.62M57.5 36.2h.62M54.2 66.2h.62M9.9 56.0h.62M3.4 67.5h.62M15.1 22.3h.62M78.5 29.7h.62M18.4 73.0h.62M50.0 73.3h.62M32.3 41.0h.62M78.4 41.6h.62M81.1 15.5h.62M68.1 13.3h.62M43.2 0.0h.62M14.4 77.5h.62M37.3 66.4h.62M20.6 28.9h.62M8.3 45.3h.62M70.7 42.1h.62M30.9 76.1h.62M73.3 54.6h.62M6.2 51.2h.62M36.4 78.5h.62M29.7 54.2h.62M51.8 30.8h.62M42.8 55.5h.62M74.4 40.8h.62M29.8 80.0h.62M4.7 68.5h.62M56.0 45.7h.62M36.7 61.6h.62M73.1 59.8h.62M61.5 2.9h.62M26.7 11.2h.62M78.1 73.1h.62M11.9 48.2h.62M47.3 3.8h.62M32.2 61.3h.62M52.6 23.0h.62M62.5 23.9h.62M44.6 34.5h.62M80.2 53.2h.62M66.0 55.5h.62M31.2 79.0h.62M58.2 56.6h.62M22.8 13.3h.62M47.2 67.7h.62M65.1 28.5h.62M11.5 42.3h.62M71.9 13.3h.62M60.5 14.0h.62M25.6 4.4h.62M24.4 31.4h.62M79.3 78.9h.62M15.3 25.4h.62M77.4 16.2h.62M26.3 35.9h.62M8.9 21.3h.62M32.3 31.6h.62M79.0 21.9h.62M16.7 74.5h.62M36.9 68.6h.62M52.2 63.8h.62M25.8 12.5h.62M62.1 38.6h.62M45.8 55.0h.62M61.7 22.6h.62M29.7 75.2h.62M43.4 23.6h.62M51.7 21.3h.62M63.3 3.4h.62M67.8 46.5h.62M29.0 77.1h.62M21.8 20.0h.62M5.7 45.0h.62M61.8 55.6h.62M33.8 66.2h.62M9.1 25.2h.62M52.9 79.3h.62M52.0 56.7h.62M63.5 32.3h.62M77.1 60.9h.62M28.0 32.2h.62M66.1 28.7h.62M15.2 71.5h.62M43.6 42.7h.62M54.9 73.9h.62M11.0 27.8h.62M5.4 33.9h.62M41.2 69.9h.62M54.8 47.4h.62M33.1 47.0h.62M22.5 69.3h.62M64.7 68.7h.62M12.4 55.1h.62M61.8 41.0h.62M73.7 73.7h.62M60.9 67.3h.62M53.2 72.1h.62M10.8 57.7h.62M57.7 50.2h.62M22.6 5.5h.62M49.5 67.6h.62M22.4 17.5h.62M18.4 7.7h.62M55.4 79.9h.62M65.8 29.5h.62M57.4 5.9h.62M68.8 26.7h.62M0.3 51.6h.62M11.4 22.6h.62M4.8 36.5h.62M45.5 66.2h.62M3.2 67.8h.62M9.1 18.4h.62M51.6 27.9h.62M27.1 46.6h.62M17.9 65.1h.62M17.1 68.8h.62M66.3 44.0h.62M2.5 63.8h.62M2.3 41.4h.62M34.8 5.2h.62M51.7 59.4h.62M48.0 32.8h.62M42.0 48.3h.62M18.6 71.1h.62M81.6 65.9h.62M78.8 27.0h.62M80.9 5.9h.62M39.2 11.0h.62M37.2 56.0h.62M58.1 37.3h.62M28.0 15.6h.62M33.0 23.2h.62M15.9 60.4h.62M42.3 36.0h.62M16.2 57.7h.62M16.1 21.8h.62M45.9 57.5h.62M79.8 61.3h.62M77.8 75.4h.62M59.2 59.0h.62M5.1 16.9h.62M1.1 70.8h.62M59.2 51.7h.62M21.6 29.1h.62M13.4 51.8h.62M81.3 25.1h.62M3.6 14.4h.62M29.1 73.7h.62M66.0 37.3h.62M8.4 8.7h.62M12.6 63.8h.62M38.6 81.2h.62M74.8 65.2h.62M39.1 67.4h.62M10.5 8.9h.62M46.2 41.7h.62M17.2 20.7h.62M1.7 74.5h.62M58.2 77.5h.62M80.4 35.8h.62M60.1 31.5h.62M66.6 69.0h.62M11.0 1.1h.62M17.6 48.0h.62M31.1 0.7h.62M68.1 64.5h.62M38.0 3.5h.62M72.9 43.8h.62M5.8 26.5h.62M51.2 72.6h.62M39.7 52.4h.62M16.9 20.0h.62M74.3 31.4h.62M8.5 48.5h.62M10.4 16.4h.62M37.4 48.0h.62M52.2 58.0h.62M36.0 5.5h.62M59.4 4.4h.62M38.6 32.8h.62M55.2 58.5h.62M19.7 53.3h.62M56.7 38.7h.62M11.6 74.5h.62M49.1 5.1h.62M19.6 80.9h.62M18.8 32.2h.62M64.6 67.6h.62M52.0 60.8h.62M3.1 7.7h.62M80.0 65.8h.62M3.1 4.0h.62M19.7 76.3h.62M18.0 55.1h.62M76.3 52.4h.62M75.4 21.6h.62M12.6 1.5h.62M62.1 8.5h.62M79.8 58.2h.62M15.3 66.2h.62M13.4 42.0h.62M8.7 64.5h.62M73.0 75.1h.62M0.2 69.8h.62M45.6 67.4h.62M41.2 50.8h.62M48.8 65.6h.62M6.4 4.4h.62M44.7 23.9h.62M32.6 0.6h.62M61.1 2.0h.62M68.0 66.5h.62M37.6 10.0h.62M53.3 17.0h.62M35.2 9.1h.62M80.1 44.8h.62M28.9 7.7h.62M59.9 69.7h.62M69.6 8.3h.62M30.1 24.8h.62M62.5 12.1h.62M49.7 80.2h.62M63.0 0.6h.62M6.1 9.3h.62M56.8 49.1h.62M42.7 37.4h.62M33.4 50.1h.62M53.2 75.1h.62M60.1 65.3h.62M74.9 68.6h.62M58.8 2.5h.62M55.8 69.7h.62M35.3 72.0h.62M14.7 77.3h.62M36.2 57.9h.62M20.7 24.6h.62M28.6 26.6h.62M7.8 36.3h.62M80.4 53.6h.62M76.4 62.5h.62M68.6 81.5h.62M61.7 22.5h.62M20.5 33.8h.62M1.7 18.9h.62M72.7 75.5h.62M27.0 63.2h.62M63.5 73.0h.62M65.2 43.6h.62M8.6 67.7h.62M25.7 51.4h.62M30.1 44.1h.62M79.2 13.2h.62M43.5 53.3h.62M44.1 76.9h.62M33.4 74.9h.62M56.6 79.3h.62M7.4 17.4h.62M23.6 74.3h.62M1.1 21.3h.62M58.7 81.2h.62M14.5 35.9h.62M56.3 56.6h.62M61.2 61.8h.62M20.4 21.1h.62M2.3 56.7h.62M17.2 21.3h.62M79.1 52.8h.62M48.5 53.8h.62M49.0 57.0h.62M24.9 5.2h.62M5.5 1.2h.62M29.6 11.7h.62M9.3 40.5h.62M79.5 56.4h.62M22.4 63.1h.62M14.6 8.2h.62M24.9 33.5h.62M56.5 36.5h.62M59.7 7.8h.62M76.4 28.1h.62M68.2 2.5h.62M68.0 18.6h.62M70.1 65.8h.62M55.0 22.8h.62M0.8 15.6h.62M74.2 13.0h.62M54.1 48.1h.62M54.2 14.8h.62M11.8 8.0h.62M80.6 31.4h.62M53.5 46.7h.62M18.3 5.3h.62M1.2 69.9h.62M10.7 79.0h.62M29.8 59.3h.62M11.3 64.6h.62M20.6 30.0h.62M42.9 9.1h.62M20.4 65.3h.62M23.4 31.2h.62M62.7 18.4h.62M15.9 18.0h.62M31.5 30.0h.62M52.6 38.7h.62M71.3 4.1h.62M54.4 68.6h.62M19.3 2.4h.62M35.9 9.5h.62M37.7 58.3h.62M7.7 9.7h.62M39.3 14.3h.62M18.9 36.1h.62M9.7 5.6h.62M29.6 38.5h.62M76.8 45.5h.62M5.9 18.2h.62M61.0 46.2h.62M71.4 78.9h.62M70.3 9.0h.62M77.4 43.0h.62M19.7 14.0h.62M70.9 17.4h.62M6.8 21.8h.62M75.8 37.8h.62M60.0 6.1h.62M37.1 26.1h.62M16.8 54.4h.62M29.6 9.8h.62M80.7 39.5h.62M14.8 0.9h.62M53.5 42.2h.62M2.0 38.6h.62M60.7 44.0h.62M19.2 40.9h.62M49.6 53.4h.62M11.9 65.9h.62M77.5 60.7h.62M70.3 30.2h.62M74.0 14.9h.62M18.6 49.0h.62M73.9 6.7h.62M17.8 2.9h.62M36.0 11.5h.62M15.7 61.4h.62M47.8 77.0h.62M33.0 55.7h.62M1.0 77.8h.62M19.1 39.1h.62M42.0 77.8h.62M40.4 81.3h.62M50.9 17.7h.62M68.4 16.6h.62M82.0 37.4h.62M18.6 78.8h.62M26.4 33.4h.62M28.1 54.8h.62M1.9 30.7h.62M13.3 67.9h.62M0.0 49.8h.62M21.1 37.2h.62M46.1 58.4h.62M11.3 19.7h.62M9.9 78.7h.62M12.2 11.2h.62M42.8 47.7h.62M72.7 4.7h.62M19.2 13.7h.62M48.0 37.1h.62M33.5 72.8h.62M54.3 70.5h.62M78.5 22.1h.62M77.2 33.4h.62M4.2 75.0h.62M8.5 1.4h.62M23.8 23.7h.62M79.3 71.4h.62M34.4 43.4h.62M69.6 66.2h.62M53.6 42.0h.62M9.6 20.0h.62M54.0 48.1h.62M65.7 73.7h.62M78.9 15.8h.62M6.2 73.6h.62M46.8 14.9h.62M56.8 21.0h.62M19.4 30.0h.62M43.0 55.5h.62M6.0 60.8h.62M51.2 38.7h.62M55.1 65.6h.62M0.8 39.0h.62M55.6 58.1h.62M53.1 14.8h.62M78.6 64.4h.62M19.1 35.3h.62M78.5 17.0h.62M33.5 78.9h.62M73.8 19.1h.62M60.3 29.5h.62M54.4 62.9h.62M10.5 18.3h.62M17.6 21.8h.62M2.9 11.2h.62M33.3 34.5h.62M6.4 47.8h.62M77.3 47.3h.62M29.2 57.8h.62M35.9 14.4h.62M39.5 1.4h.62M55.4 13.2h.62M30.3 78.9h.62M62.9 68.5h.62M52.7 52.0h.62M57.8 79.2h.62M16.1 62.8h.62M24.7 21.0h.62M67.4 49.3h.62M69.7 71.8h.62M48.3 16.3h.62M1.2 43.9h.62M59.5 22.3h.62M5.7 0.4h.62M14.2 57.1h.62M0.3 18.9h.62M21.7 58.3h.62M81.0 1.6h.62M9.4 76.6h.62M79.5 12.2h.62M27.5 42.8h.62M26.3 34.2h.62M39.3 21.2h.62M4.5 6.9h.62M13.3 7.5h.62M51.2 57.1h.62M21.6 64.9h.62M59.8 28.0h.62M40.3 15.4h.62M76.2 46.0h.62M4.2 12.6h.62M56.8 31.6h.62M58.8 18.8h.62M65.4 65.8h.62M7.7 48.1h.62M15.7 58.0h.62M65.9 64.9h.62M19.0 7.7h.62M54.4 46.3h.62M11.3 15.8h.62M47.8 8.8h.62M52.0 19.8h.62M21.2 34.7h.62M43.7 59.4h.62M2.5 59.4h.62M18.1 23.8h.62M52.5 56.7h.62M50.4 73.9h.62M16.8 25.5h.62M54.3 21.4h.62M12.9 18.6h.62M63.2 67.8h.62M58.7 78.6h.62M65.1 25.4h.62M25.9 59.1h.62M4.6 50.0h.62M7.3 4.0h.62M42.1 12.4h.62M76.4 71.9h.62M37.9 16.2h.62M9.8 41.6h.62M42.7 29.8h.62M58.7 43.4h.62M63.6 8.7h.62M5.7 31.7h.62M39.6 20.7h.62M54.8 18.2h.62M26.1 39.1h.62M58.4 63.2h.62M30.5 36.6h.62M76.1 76.6h.62M50.7 8.6h.62M37.4 52.2h.62M22.8 3.1h.62M80.5 74.6h.62M10.6 38.2h.62M50.8 24.6h.62M5.6 61.6h.62M63.2 35.9h.62M7.0 32.3h.62M7.7 79.0h.62M4.2 23.6h.62M63.0 11.1h.62M8.7 5.8h.62M13.4 43.6h.62M68.3 13.9h.62M14.2 62.7h.62M34.9 27.7h.62M10.1 19.9h.62M79.7 9.6h.62M21.3 60.7h.62M73.1 74.1h.62M38.8 78.4h.62M49.5 23.7h.62M38.1 58.7h.62M60.2 10.6h.62M15.9 78.6h.62M8.8 66.7h.62M27.8 20.3h.62M20.9 38.5h.62M81.2 12.2h.62M70.1 26.3h.62M14.2 61.1h.62M28.0 15.4h.62M34.3 67.4h.62M70.8 47.1h.62M0.9 62.6h.62M49.7 73.8h.62M78.1 26.8h.62M69.6 67.2h.62M21.8 30.0h.62M30.7 28.9h.62M31.0 9.0h.62M18.6 74.6h.62M33.7 52.1h.62M72.8 62.0h.62M20.0 75.4h.62M65.9 81.2h.62M59.7 61.9h.62M66.7 20.8h.62M53.8 31.2h.62M68.9 11.0h.62M44.2 27.6h.62M67.3 28.3h.62M69.2 69.5h.62M72.1 11.4h.62M76.9 61.0h.62M55.5 53.5h.62M3.9 71.4h.62M44.9 37.4h.62M27.8 64.2h.62M64.1 71.3h.62M17.6 27.9h.62M20.4 8.2h.62M26.8 2.1h.62M65.3 18.6h.62M5.8 5.5h.62M60.8 16.3h.62M37.9 33.0h.62M65.8 78.2h.62M25.4 51.8h.62M73.4 38.6h.62M73.8 60.2h.62M25.5 71.7h.62M47.0 8.7h.62M48.2 68.0h.62M42.5 39.7h.62M34.1 72.2h.62M54.6 17.1h.62M29.7 29.8h.62M78.6 57.1h.62M10.2 75.0h.62M2.9 48.5h.62M35.5 58.8h.62M35.2 7.6h.62M42.9 67.3h.62M64.7 29.2h.62M18.2 61.1h.62M65.7 18.0h.62M72.4 81.4h.62M35.5 31.2h.62M58.2 76.2h.62M16.5 24.7h.62M27.0 60.0h.62M15.3 44.8h.62M41.0 54.8h.62M11.7 78.4h.62M82.0 46.0h.62M65.2 15.0h.62M74.6 45.2h.62M62.3 71.2h.62M29.7 75.8h.62M17.0 1.9h.62M41.2 73.7h.62M73.8 78.3h.62M41.9 76.5h.62M45.9 11.8h.62M51.7 65.9h.62M34.8 49.4h.62M21.2 22.6h.62M34.5 42.1h.62M38.4 7.6h.62M0.5 27.9h.62M58.8 61.4h.62M19.4 21.0h.62M42.4 14.4h.62M49.4 74.1h.62M16.6 48.0h.62M59.1 61.4h.62M58.4 58.3h.62M22.3 68.7h.62M75.9 4.3h.62M77.4 36.3h.62M7.1 5.7h.62M65.3 55.6h.62M11.7 37.7h.62M52.4 81.8h.62M27.6 62.9h.62M20.1 16.3h.62M13.2 33.6h.62M50.7 24.9h.62M13.3 17.9h.62M7.0 15.8h.62M25.9 41.4h.62M15.1 39.3h.62M36.1 79.8h.62M39.9 77.5h.62M38.7 16.2h.62M48.5 11.9h.62M13.9 6.0h.62M57.5 79.3h.62M33.1 29.0h.62M34.9 28.9h.62M56.6 32.1h.62M12.5 70.9h.62M47.0 0.5h.62M69.7 59.7h.62M29.1 51.7h.62M75.5 32.9h.62M35.5 24.5h.62M45.4 54.3h.62M60.3 77.8h.62M11.9 30.0h.62M69.8 64.9h.62M48.4 55.5h.62M27.9 77.5h.62M45.0 33.0h.62M15.0 9.5h.62M73.6 65.6h.62M2.2 26.5h.62M39.3 40.6h.62M29.8 73.4h.62M28.7 43.6h.62M76.2 52.4h.62M39.1 27.3h.62M31.7 50.0h.62M64.4 21.4h.62M30.4 31.8h.62M29.8 74.9h.62M44.2 22.6h.62M27.3 67.4h.62M13.1 56.6h.62M1.8 15.8h.62M4.9 66.1h.62M12.0 18.7h.62M4.7 21.6h.62M60.1 59.1h.62M74.6 77.6h.62M45.2 75.6h.62M7.3 75.9h.62M35.6 15.8h.62M61.3 70.4h.62M31.6 7.6h.62M71.6 61.8h.62M49.0 80.1h.62M3.1 4.6h.62M10.2 1.8h.62M58.1 51.7h.62M9.2 13.3h.62M14.8 50.0h.62M55.1 79.5h.62M29.6 80.3h.62M35.6 32.1h.62M20.8 19.1h.62M79.9 81.6h.62M57.9 14.4h.62M14.8 12.5h.62M28.8 60.4h.62M4.8 43.5h.62M55.8 2.8h.62M36.0 64.9h.62M47.2 37.0h.62M72.3 49.3h.62M27.6 32.5h.62M77.4 70.5h.62M75.0 46.0h.62M11.7 14.4h.62M31.4 56.6h.62M0.4 65.8h.62M64.4 42.2h.62M0.5 65.4h.62M34.0 54.9h.62M46.7 59.7h.62M33.5 78.7h.62M78.4 76.2h.62M50.4 25.9h.62M30.9 22.1h.62M74.1 65.0h.62M64.6 67.3h.62M81.2 56.4h.62M26.1 62.1h.62M21.5 50.1h.62M13.0 70.3h.62M40.1 22.6h.62M75.7 6.8h.62M76.3 62.1h.62M12.2 62.4h.62M47.0 74.4h.62M48.1 35.0h.62M76.5 7.2h.62M63.7 8.4h.62M22.7 9.3h.62M71.4 36.2h.62M59.6 21.0h.62M59.9 53.2h.62M8.0 40.5h.62M59.2 17.6h.62M53.7 22.8h.62M30.4 75.4h.62M77.3 81.8h.62M35.0 46.9h.62M66.3 62.2h.62M37.4 70.8h.62M32.9 77.9h.62M38.8 9.7h.62M61.4 11.9h.62M55.7 4.4h.62M81.0 44.4h.62M60.7 10.8h.62M52.2 30.9h.62M20.4 66.8h.62M2.7 39.2h.62M7.1 69.8h.62M73.2 2.8h.62M38.1 38.5h.62M58.9 59.8h.62M28.1 76.5h.62M15.2 11.2h.62M66.8 9.8h.62M15.2 41.0h.62M27.6 13.4h.62M76.3 38.9h.62M64.4 20.5h.62M74.8 18.1h.62M74.3 50.3h.62M79.6 63.2h.62M51.7 43.7h.62M70.1 36.4h.62M8.1 74.9h.62M66.1 55.9h.62M61.1 19.0h.62M38.0 67.5h.62M78.9 75.7h.62M13.2 56.1h.62M45.4 33.2h.62M13.8 11.2h.62M38.6 40.4h.62M22.0 30.1h.62M45.4 62.5h.62M48.3 13.3h.62M72.7 30.1h.62M78.7 80.5h.62M11.5 47.7h.62M79.3 31.6h.62M44.9 25.7h.62M2.4 16.8h.62M10.2 23.3h.62M51.6 46.2h.62M77.8 56.2h.62M29.7 77.9h.62M52.0 44.5h.62M70.7 54.9h.62M29.5 49.6h.62M24.6 79.5h.62M20.0 79.8h.62M5.3 0.8h.62M45.4 16.9h.62M41.6 9.7h.62M68.6 54.9h.62M56.1 76.0h.62M81.4 55.6h.62M58.5 0.1h.62M4.0 35.0h.62M79.5 25.7h.62M46.6 0.7h.62M34.1 74.0h.62M48.3 67.6h.62M1.1 16.6h.62M14.7 68.2h.62M8.3 76.4h.62M21.9 72.2h.62M42.3 26.5h.62M79.2 33.2h.62M57.2 5.5h.62M68.1 80.5h.62M9.1 61.2h.62M22.2 12.1h.62M29.9 54.3h.62M78.2 81.5h.62M81.5 51.1h.62M53.6 13.2h.62M59.5 45.2h.62M29.4 73.8h.62M20.9 11.6h.62M13.0 12.2h.62M48.3 65.7h.62M13.1 41.2h.62M47.1 46.0h.62M33.8 44.6h.62M1.2 4.8h.62M34.7 19.4h.62M62.1 19.8h.62M67.6 19.8h.62M7.6 39.2h.62M31.8 27.5h.62M62.7 18.2h.62M54.9 68.4h.62M37.1 41.3h.62M75.7 49.5h.62M14.8 5.7h.62M6.7 27.2h.62M7.3 53.2h.62M34.7 25.3h.62M42.0 76.8h.62M20.0 12.7h.62M25.0 26.6h.62M74.6 57.9h.62M35.2 13.6h.62M3.7 10.0h.62M69.5 53.1h.62M12.8 51.3h.62M4.8 41.6h.62M27.5 8.4h.62M60.9 58.8h.62M41.9 13.8h.62M54.9 35.5h.62M54.2 7.5h.62M74.0 0.3h.62M18.3 32.7h.62M16.3 7.2h.62M56.4 81.5h.62M27.5 21.8h.62M55.0 18.3h.62M32.9 56.5h.62M35.3 12.8h.62M5.8 44.5h.62M81.2 75.4h.62M8.2 41.2h.62M40.1 15.9h.62M54.9 40.6h.62M66.3 23.9h.62M76.6 66.8h.62M38.8 11.6h.62M39.7 10.4h.62M56.2 57.2h.62M47.4 80.1h.62M3.7 58.7h.62M65.7 9.3h.62M26.4 4.4h.62M47.8 59.3h.62M28.5 57.0h.62" stroke="#000" stroke-width=".62" fill="none"/></defs>
<defs><filter id="b3" x="-20%" y="-20%" width="140%" height="140%"><feGaussianBlur stdDeviation="3"/></filter></defs>
<g>
<clipPath id="c100"><rect x="254.9" y="673.2" width="78.7" height="78.4"/></clipPath>
<g clip-path="url(#c100)">
<g filter="url(#bl)" transform="translate(254.3 672.6)"><ellipse cx="8" cy="73" rx="29" ry="15" fill="#000" opacity="1" transform="rotate(0 8 73)"/><ellipse cx="40" cy="71" rx="12" ry="6" fill="#000" opacity="0.6" transform="rotate(-10 40 71)"/><ellipse cx="56" cy="25" rx="13.5" ry="7.2" fill="#000" opacity="1" transform="rotate(-6 56 25)"/><ellipse cx="64" cy="44" rx="5" ry="13" fill="#000" opacity="0.6" transform="rotate(0 64 44)"/><ellipse cx="40" cy="64" rx="26" ry="13" fill="#000" opacity="0.3" transform="rotate(-15 40 64)"/></g>
<mask id="m1" maskUnits="userSpaceOnUse" x="254.3" y="672.6" width="80.1" height="79.8"><g filter="url(#b3)" transform="translate(254.3 672.6)"><ellipse cx="30" cy="60" rx="36" ry="23" fill="#fff" opacity="0.85" transform="rotate(-20 30 60)"/><ellipse cx="62" cy="42" rx="12" ry="30" fill="#fff" opacity="0.85" transform="rotate(0 62 42)"/><ellipse cx="56" cy="26" rx="19" ry="11" fill="#fff" opacity="0.85" transform="rotate(-10 56 26)"/></g></mask>
<g mask="url(#m1)"><g transform="translate(253.5 671.8)">
<use href="#nz"/>
<use href="#nz" transform="rotate(90 41 41)"/>
</g></g>
<mask id="m2" maskUnits="userSpaceOnUse" x="254.3" y="672.6" width="80.1" height="79.8"><g filter="url(#b3)" transform="translate(254.3 672.6)"><ellipse cx="30" cy="62" rx="33" ry="18" fill="#fff" opacity="1" transform="rotate(-15 30 62)"/><ellipse cx="63" cy="50" rx="8.5" ry="26" fill="#fff" opacity="1" transform="rotate(0 63 50)"/><ellipse cx="56" cy="26" rx="16.5" ry="9.5" fill="#fff" opacity="1" transform="rotate(-10 56 26)"/></g></mask>
<g mask="url(#m2)"><g transform="translate(253.5 671.8)">
<use href="#nz" transform="rotate(180 41 41)"/>
<use href="#nz" transform="rotate(270 41 41)"/>
<use href="#nz" transform="translate(82 0) scale(-1 1)"/>
<use href="#nz" transform="translate(.3 .4) rotate(45 41 41) scale(1.42) translate(-12 -12)"/>
</g></g>
<mask id="m3" maskUnits="userSpaceOnUse" x="254.3" y="672.6" width="80.1" height="79.8"><g filter="url(#bl)" transform="translate(254.3 672.6)"><ellipse cx="16" cy="68" rx="30" ry="15" fill="#fff" opacity="1" transform="rotate(-8 16 68)"/><ellipse cx="64" cy="48" rx="6.5" ry="19" fill="#fff" opacity="0.95" transform="rotate(0 64 48)"/><ellipse cx="56" cy="25.5" rx="15" ry="8.5" fill="#fff" opacity="1" transform="rotate(-6 56 25.5)"/><ellipse cx="46" cy="66" rx="19" ry="9.5" fill="#fff" opacity="0.85" transform="rotate(-15 46 66)"/></g></mask>
<g mask="url(#m3)"><g transform="translate(253.5 671.8)">
<use href="#nz" transform="translate(0 82) scale(1 -1)"/>
<use href="#nz" transform="rotate(90 41 41) translate(82 0) scale(-1 1)"/>
<use href="#nz" transform="rotate(270 41 41) translate(82 0) scale(-1 1)"/>
<use href="#nz" transform="translate(.1 .2) rotate(135 41 41) scale(1.42) translate(-12 -12)"/>
<use href="#nz"/>
</g></g>
</g>
<path d="M254.3 752.4V672.6H334.4" fill="none" stroke="#111" stroke-width="1"/>
<path d="M334.4 672.1V752.4H253.8" fill="none" stroke="#111" stroke-width="1.6"/>
<line x1="253.8" y1="672.6" x2="256.3" y2="672.6" stroke="#111" stroke-width="0.8"/>
<line x1="254.3" y1="752.4" x2="254.3" y2="754.6" stroke="#111" stroke-width="0.8"/>
<line x1="253.8" y1="692.5" x2="256.3" y2="692.5" stroke="#111" stroke-width="0.8"/>
<line x1="274.4" y1="752.4" x2="274.4" y2="754.6" stroke="#111" stroke-width="0.8"/>
<line x1="253.8" y1="712.4" x2="256.3" y2="712.4" stroke="#111" stroke-width="0.8"/>
<line x1="294.5" y1="752.4" x2="294.5" y2="754.6" stroke="#111" stroke-width="0.8"/>
<line x1="253.8" y1="732.3" x2="256.3" y2="732.3" stroke="#111" stroke-width="0.8"/>
<line x1="314.6" y1="752.4" x2="314.6" y2="754.6" stroke="#111" stroke-width="0.8"/>
<line x1="253.8" y1="752.2" x2="256.3" y2="752.2" stroke="#111" stroke-width="0.8"/>
<line x1="334.7" y1="752.4" x2="334.7" y2="754.6" stroke="#111" stroke-width="0.8"/>
<path d="M255 672.6V752.4" stroke="#444" stroke-width="1.4" stroke-dasharray=".5 1.5" fill="none"/>
<path d="M254.3 753.3H334.4" stroke="#444" stroke-width="1.4" stroke-dasharray=".5 1.5" fill="none"/>
<ellipse cx="308.3" cy="698" rx="20.4" ry="11" fill="none" stroke="#111" stroke-width=".9" transform="rotate(-12 308.3 698)"/>
<text x="270.5" y="693.1" font-size="13" text-anchor="start" font-weight="bold">36.3</text>
</g>
<g>
<clipPath id="c103"><rect x="366.6" y="673.2" width="78.7" height="78.4"/></clipPath>
<g clip-path="url(#c103)">
<g filter="url(#bl)" transform="translate(366 672.6)"><ellipse cx="5" cy="75" rx="21" ry="12.5" fill="#000" opacity="1" transform="rotate(-8 5 75)"/><ellipse cx="22" cy="63.5" rx="10" ry="7" fill="#000" opacity="0.85" transform="rotate(-28 22 63.5)"/><ellipse cx="53" cy="26" rx="14.5" ry="7.6" fill="#000" opacity="1" transform="rotate(-12 53 26)"/><ellipse cx="60" cy="45" rx="5.5" ry="13" fill="#000" opacity="0.65" transform="rotate(0 60 45)"/><ellipse cx="38" cy="62" rx="26" ry="13" fill="#000" opacity="0.3" transform="rotate(-22 38 62)"/></g>
<mask id="m4" maskUnits="userSpaceOnUse" x="366" y="672.6" width="80.1" height="79.8"><g filter="url(#b3)" transform="translate(366 672.6)"><ellipse cx="30" cy="58" rx="36" ry="23" fill="#fff" opacity="0.85" transform="rotate(-25 30 58)"/><ellipse cx="59" cy="42" rx="13" ry="30" fill="#fff" opacity="0.85" transform="rotate(0 59 42)"/><ellipse cx="53" cy="27" rx="20" ry="11" fill="#fff" opacity="0.85" transform="rotate(-12 53 27)"/></g></mask>
<g mask="url(#m4)"><g transform="translate(365.2 671.8)">
<use href="#nz"/>
<use href="#nz" transform="rotate(90 41 41)"/>
</g></g>
<mask id="m5" maskUnits="userSpaceOnUse" x="366" y="672.6" width="80.1" height="79.8"><g filter="url(#b3)" transform="translate(366 672.6)"><ellipse cx="28" cy="62" rx="32" ry="17" fill="#fff" opacity="1" transform="rotate(-22 28 62)"/><ellipse cx="59" cy="50" rx="9" ry="24" fill="#fff" opacity="1" transform="rotate(0 59 50)"/><ellipse cx="53" cy="27" rx="17" ry="9.5" fill="#fff" opacity="1" transform="rotate(-12 53 27)"/></g></mask>
<g mask="url(#m5)"><g transform="translate(365.2 671.8)">
<use href="#nz" transform="rotate(180 41 41)"/>
<use href="#nz" transform="rotate(270 41 41)"/>
<use href="#nz" transform="translate(82 0) scale(-1 1)"/>
<use href="#nz" transform="translate(.3 .4) rotate(45 41 41) scale(1.42) translate(-12 -12)"/>
</g></g>
<mask id="m6" maskUnits="userSpaceOnUse" x="366" y="672.6" width="80.1" height="79.8"><g filter="url(#bl)" transform="translate(366 672.6)"><ellipse cx="14" cy="69" rx="26" ry="13" fill="#fff" opacity="1" transform="rotate(-20 14 69)"/><ellipse cx="60" cy="47" rx="7" ry="17" fill="#fff" opacity="0.95" transform="rotate(0 60 47)"/><ellipse cx="53" cy="26.5" rx="15.5" ry="8.6" fill="#fff" opacity="1" transform="rotate(-12 53 26.5)"/><ellipse cx="42" cy="62" rx="16" ry="9" fill="#fff" opacity="0.8" transform="rotate(-30 42 62)"/></g></mask>
<g mask="url(#m6)"><g transform="translate(365.2 671.8)">
<use href="#nz" transform="translate(0 82) scale(1 -1)"/>
<use href="#nz" transform="rotate(90 41 41) translate(82 0) scale(-1 1)"/>
<use href="#nz" transform="rotate(270 41 41) translate(82 0) scale(-1 1)"/>
<use href="#nz" transform="translate(.1 .2) rotate(135 41 41) scale(1.42) translate(-12 -12)"/>
<use href="#nz"/>
</g></g>
</g>
<path d="M366 752.4V672.6H446.1" fill="none" stroke="#111" stroke-width="1"/>
<path d="M446.1 672.1V752.4H365.5" fill="none" stroke="#111" stroke-width="1.6"/>
<line x1="365.5" y1="672.6" x2="368" y2="672.6" stroke="#111" stroke-width="0.8"/>
<line x1="366" y1="752.4" x2="366" y2="754.6" stroke="#111" stroke-width="0.8"/>
<line x1="365.5" y1="692.5" x2="368" y2="692.5" stroke="#111" stroke-width="0.8"/>
<line x1="386.1" y1="752.4" x2="386.1" y2="754.6" stroke="#111" stroke-width="0.8"/>
<line x1="365.5" y1="712.4" x2="368" y2="712.4" stroke="#111" stroke-width="0.8"/>
<line x1="406.2" y1="752.4" x2="406.2" y2="754.6" stroke="#111" stroke-width="0.8"/>
<line x1="365.5" y1="732.3" x2="368" y2="732.3" stroke="#111" stroke-width="0.8"/>
<line x1="426.3" y1="752.4" x2="426.3" y2="754.6" stroke="#111" stroke-width="0.8"/>
<line x1="365.5" y1="752.2" x2="368" y2="752.2" stroke="#111" stroke-width="0.8"/>
<line x1="446.4" y1="752.4" x2="446.4" y2="754.6" stroke="#111" stroke-width="0.8"/>
<path d="M366.7 672.6V752.4" stroke="#444" stroke-width="1.4" stroke-dasharray=".5 1.5" fill="none"/>
<path d="M366 753.3H446.1" stroke="#444" stroke-width="1.4" stroke-dasharray=".5 1.5" fill="none"/>
<ellipse cx="419.4" cy="698.4" rx="20.4" ry="11.4" fill="none" stroke="#111" stroke-width=".9" transform="rotate(-12 419.4 698.4)"/>
<text x="382" y="693.1" font-size="13" text-anchor="start" font-weight="bold">43.4</text>
</g>
<g>
<clipPath id="c106"><rect x="254.9" y="793.2" width="78.7" height="78.4"/></clipPath>
<g clip-path="url(#c106)">
<mask id="m7" maskUnits="userSpaceOnUse" x="254.3" y="792.6" width="80.1" height="79.8"><g filter="url(#bl)" transform="translate(254.3 792.6)"><ellipse cx="53" cy="26.5" rx="16.6" ry="8.3" fill="#fff" opacity="1" transform="rotate(-12 53 26.5)"/></g></mask>
<g mask="url(#m7)"><g transform="translate(253.5 791.8)">
<use href="#nz"/>
<use href="#nz" transform="rotate(90 41 41)"/>
<use href="#nz" transform="rotate(180 41 41)"/>
<use href="#nz" transform="rotate(270 41 41)"/>
<use href="#nz" transform="translate(82 0) scale(-1 1)"/>
<use href="#nz" transform="translate(0 82) scale(1 -1)"/>
<use href="#nz" transform="rotate(90 41 41) translate(82 0) scale(-1 1)"/>
<use href="#nz" transform="rotate(270 41 41) translate(82 0) scale(-1 1)"/>
<use href="#nz" transform="translate(.3 .4) rotate(45 41 41) scale(1.42) translate(-12 -12)"/>
<use href="#nz" transform="translate(.1 .2) rotate(135 41 41) scale(1.42) translate(-12 -12)"/>
</g></g>
<mask id="m8" maskUnits="userSpaceOnUse" x="254.3" y="792.6" width="80.1" height="79.8"><g filter="url(#bl)" transform="translate(254.3 792.6)"><ellipse cx="53" cy="26.5" rx="23" ry="11.5" fill="#fff" opacity="0.55" transform="rotate(-12 53 26.5)"/></g></mask>
<g mask="url(#m8)"><g transform="translate(253.5 791.8)">
<use href="#nz"/>
<use href="#nz" transform="rotate(270 41 41)"/>
</g></g>
<g filter="url(#bs)" transform="translate(254.3 792.6)"><ellipse cx="53" cy="26.5" rx="11.2" ry="5.4" fill="#000" opacity="1" transform="rotate(-12 53 26.5)"/></g>
<mask id="m9" maskUnits="userSpaceOnUse" x="254.3" y="792.6" width="80.1" height="79.8"><g filter="url(#b3)" transform="translate(254.3 792.6)"><ellipse cx="19" cy="66" rx="18.9" ry="10.5" fill="#fff" opacity="0.8" transform="rotate(0 19 66)"/><ellipse cx="51" cy="40.5" rx="12" ry="6" fill="#fff" opacity="0.5" transform="rotate(0 51 40.5)"/><ellipse cx="33" cy="56" rx="10" ry="8" fill="#fff" opacity="0.25" transform="rotate(-30 33 56)"/></g></mask>
<g mask="url(#m9)"><g transform="translate(253.5 791.8)" stroke="#444">
<use href="#nz" transform="rotate(90 41 41)"/>
</g></g>
</g>
<path d="M254.3 872.4V792.6H334.4" fill="none" stroke="#111" stroke-width="1"/>
<path d="M334.4 792.1V872.4H253.8" fill="none" stroke="#111" stroke-width="1.6"/>
<line x1="253.8" y1="792.6" x2="256.3" y2="792.6" stroke="#111" stroke-width="0.8"/>
<line x1="254.3" y1="872.4" x2="254.3" y2="874.6" stroke="#111" stroke-width="0.8"/>
<line x1="253.8" y1="812.5" x2="256.3" y2="812.5" stroke="#111" stroke-width="0.8"/>
<line x1="274.4" y1="872.4" x2="274.4" y2="874.6" stroke="#111" stroke-width="0.8"/>
<line x1="253.8" y1="832.4" x2="256.3" y2="832.4" stroke="#111" stroke-width="0.8"/>
<line x1="294.5" y1="872.4" x2="294.5" y2="874.6" stroke="#111" stroke-width="0.8"/>
<line x1="253.8" y1="852.3" x2="256.3" y2="852.3" stroke="#111" stroke-width="0.8"/>
<line x1="314.6" y1="872.4" x2="314.6" y2="874.6" stroke="#111" stroke-width="0.8"/>
<line x1="253.8" y1="872.2" x2="256.3" y2="872.2" stroke="#111" stroke-width="0.8"/>
<line x1="334.7" y1="872.4" x2="334.7" y2="874.6" stroke="#111" stroke-width="0.8"/>
<path d="M255 792.6V872.4" stroke="#444" stroke-width="1.4" stroke-dasharray=".5 1.5" fill="none"/>
<path d="M254.3 873.3H334.4" stroke="#444" stroke-width="1.4" stroke-dasharray=".5 1.5" fill="none"/>
<ellipse cx="308.1" cy="818.5" rx="20.9" ry="11.5" fill="none" stroke="#111" stroke-width=".9" transform="rotate(-12 308.1 818.5)"/>
<text x="270.5" y="813.1" font-size="13" text-anchor="start" font-weight="bold">95.7</text>
</g>
<g>
<clipPath id="c109"><rect x="366.6" y="793.2" width="78.7" height="78.4"/></clipPath>
<g clip-path="url(#c109)">
<mask id="m10" maskUnits="userSpaceOnUse" x="366" y="792.6" width="80.1" height="79.8"><g filter="url(#bl)" transform="translate(366 792.6)"><ellipse cx="50.5" cy="27" rx="16.1" ry="7.5" fill="#fff" opacity="1" transform="rotate(-20 50.5 27)"/></g></mask>
<g mask="url(#m10)"><g transform="translate(365.2 791.8)">
<use href="#nz"/>
<use href="#nz" transform="rotate(90 41 41)"/>
<use href="#nz" transform="rotate(180 41 41)"/>
<use href="#nz" transform="rotate(270 41 41)"/>
<use href="#nz" transform="translate(82 0) scale(-1 1)"/>
<use href="#nz" transform="translate(0 82) scale(1 -1)"/>
<use href="#nz" transform="rotate(90 41 41) translate(82 0) scale(-1 1)"/>
<use href="#nz" transform="rotate(270 41 41) translate(82 0) scale(-1 1)"/>
<use href="#nz" transform="translate(.3 .4) rotate(45 41 41) scale(1.42) translate(-12 -12)"/>
<use href="#nz" transform="translate(.1 .2) rotate(135 41 41) scale(1.42) translate(-12 -12)"/>
</g></g>
<mask id="m11" maskUnits="userSpaceOnUse" x="366" y="792.6" width="80.1" height="79.8"><g filter="url(#bl)" transform="translate(366 792.6)"><ellipse cx="50.5" cy="27" rx="22.3" ry="10.4" fill="#fff" opacity="0.55" transform="rotate(-20 50.5 27)"/></g></mask>
<g mask="url(#m11)"><g transform="translate(365.2 791.8)">
<use href="#nz"/>
<use href="#nz" transform="rotate(270 41 41)"/>
</g></g>
<g filter="url(#bs)" transform="translate(366 792.6)"><ellipse cx="50.5" cy="27" rx="10.8" ry="4.9" fill="#000" opacity="1" transform="rotate(-20 50.5 27)"/></g>
<mask id="m12" maskUnits="userSpaceOnUse" x="366" y="792.6" width="80.1" height="79.8"><g filter="url(#b3)" transform="translate(366 792.6)"><ellipse cx="22" cy="64" rx="21" ry="9.5" fill="#fff" opacity="0.8" transform="rotate(0 22 64)"/><ellipse cx="48.5" cy="41" rx="12" ry="6" fill="#fff" opacity="0.5" transform="rotate(0 48.5 41)"/><ellipse cx="36" cy="54" rx="10" ry="8" fill="#fff" opacity="0.25" transform="rotate(-30 36 54)"/></g></mask>
<g mask="url(#m12)"><g transform="translate(365.2 791.8)" stroke="#444">
<use href="#nz" transform="rotate(90 41 41)"/>
</g></g>
</g>
<path d="M366 872.4V792.6H446.1" fill="none" stroke="#111" stroke-width="1"/>
<path d="M446.1 792.1V872.4H365.5" fill="none" stroke="#111" stroke-width="1.6"/>
<line x1="365.5" y1="792.6" x2="368" y2="792.6" stroke="#111" stroke-width="0.8"/>
<line x1="366" y1="872.4" x2="366" y2="874.6" stroke="#111" stroke-width="0.8"/>
<line x1="365.5" y1="812.5" x2="368" y2="812.5" stroke="#111" stroke-width="0.8"/>
<line x1="386.1" y1="872.4" x2="386.1" y2="874.6" stroke="#111" stroke-width="0.8"/>
<line x1="365.5" y1="832.4" x2="368" y2="832.4" stroke="#111" stroke-width="0.8"/>
<line x1="406.2" y1="872.4" x2="406.2" y2="874.6" stroke="#111" stroke-width="0.8"/>
<line x1="365.5" y1="852.3" x2="368" y2="852.3" stroke="#111" stroke-width="0.8"/>
<line x1="426.3" y1="872.4" x2="426.3" y2="874.6" stroke="#111" stroke-width="0.8"/>
<line x1="365.5" y1="872.2" x2="368" y2="872.2" stroke="#111" stroke-width="0.8"/>
<line x1="446.4" y1="872.4" x2="446.4" y2="874.6" stroke="#111" stroke-width="0.8"/>
<path d="M366.7 792.6V872.4" stroke="#444" stroke-width="1.4" stroke-dasharray=".5 1.5" fill="none"/>
<path d="M366 873.3H446.1" stroke="#444" stroke-width="1.4" stroke-dasharray=".5 1.5" fill="none"/>
<ellipse cx="419.6" cy="818.5" rx="20.6" ry="11.5" fill="none" stroke="#111" stroke-width=".9" transform="rotate(-12 419.6 818.5)"/>
<text x="382" y="813.1" font-size="13" text-anchor="start" font-weight="bold">95.5</text>
</g>
<text x="296.7" y="662.8" font-size="13" text-anchor="middle" font-weight="bold">WT</text>
<text x="407.5" y="662.8" font-size="13" font-weight="bold" text-anchor="middle"><tspan font-style="italic">Dcir1</tspan><tspan font-size="8" font-weight="bold" font-style="italic" dx=".6" dy="-4">-/-</tspan></text>
<text x="296.5" y="772.9" font-size="13" text-anchor="middle" font-weight="bold">CD11b</text>
<text x="406.8" y="772.9" font-size="13" text-anchor="middle" font-weight="bold">CD11b</text>
<text x="243.3" y="712.1" font-size="13" text-anchor="middle" font-weight="bold" transform="rotate(-90 243.3 712.1)">Ly6G</text>
<text x="355.1" y="712.1" font-size="13" text-anchor="middle" font-weight="bold" transform="rotate(-90 355.1 712.1)">Ly6G</text>
<text x="296.5" y="892.9" font-size="13" text-anchor="middle" font-weight="bold">CD11b</text>
<text x="406.8" y="892.9" font-size="13" text-anchor="middle" font-weight="bold">CD11b</text>
<text x="243.3" y="832.1" font-size="13" text-anchor="middle" font-weight="bold" transform="rotate(-90 243.3 832.1)">Ly6G</text>
<text x="355.1" y="832.1" font-size="13" text-anchor="middle" font-weight="bold" transform="rotate(-90 355.1 832.1)">Ly6G</text>
<text x="195.5" y="712.5" font-size="13" text-anchor="middle" font-weight="bold">Whole</text>
<text x="195.5" y="724" font-size="13" text-anchor="middle" font-weight="bold">cells</text>
<text x="195.5" y="830.5" font-size="13" text-anchor="middle" font-weight="bold">Migrated</text>
<text x="195.5" y="842" font-size="13" text-anchor="middle" font-weight="bold">cells</text>
<line x1="509.6" y1="644.5" x2="509.6" y2="859.9" stroke="#2a2a2a" stroke-width="1"/>
<line x1="505.9" y1="856.4" x2="637.3" y2="856.4" stroke="#2a2a2a" stroke-width="1"/>
<line x1="636.9" y1="856.4" x2="636.9" y2="860.1" stroke="#2a2a2a" stroke-width="1"/>
<line x1="505.7" y1="645" x2="509.6" y2="645" stroke="#2a2a2a" stroke-width="1"/>
<text x="501" y="650" font-size="13" text-anchor="end" font-weight="bold">6</text>
<line x1="505.7" y1="715.4" x2="509.6" y2="715.4" stroke="#2a2a2a" stroke-width="1"/>
<text x="501" y="720.4" font-size="13" text-anchor="end" font-weight="bold">4</text>
<line x1="505.7" y1="786" x2="509.6" y2="786" stroke="#2a2a2a" stroke-width="1"/>
<text x="501" y="791" font-size="13" text-anchor="end" font-weight="bold">2</text>
<line x1="505.7" y1="856.3" x2="509.6" y2="856.3" stroke="#2a2a2a" stroke-width="1"/>
<text x="501" y="861.3" font-size="13" text-anchor="end" font-weight="bold">0</text>
<line x1="505.8" y1="680.3" x2="509.6" y2="680.3" stroke="#2a2a2a" stroke-width="1"/>
<line x1="505.8" y1="750.7" x2="509.6" y2="750.7" stroke="#2a2a2a" stroke-width="1"/>
<line x1="505.8" y1="821.1" x2="509.6" y2="821.1" stroke="#2a2a2a" stroke-width="1"/>
<rect x="517.3" y="855.2" width="16.8" height="1.9" fill="#000"/>
<rect x="550.1" y="690.1" width="15" height="166.3" fill="#fff" stroke="#2a2a2a"/>
<rect x="581.1" y="853.5" width="16.3" height="3" fill="#000"/>
<rect x="612.8" y="695.3" width="16.1" height="161.1" fill="#000"/>
<line x1="557.3" y1="671.9" x2="557.3" y2="708.3" stroke="#2a2a2a" stroke-width="0.9"/>
<line x1="553.5" y1="671.9" x2="561.2" y2="671.9" stroke="#2a2a2a" stroke-width="0.9"/>
<line x1="553.5" y1="708.3" x2="561.2" y2="708.3" stroke="#2a2a2a" stroke-width="0.9"/>
<line x1="621.2" y1="670.7" x2="621.2" y2="695.3" stroke="#2a2a2a" stroke-width="0.9"/>
<line x1="617.3" y1="670.7" x2="625.1" y2="670.7" stroke="#2a2a2a" stroke-width="0.9"/>
<line x1="589.2" y1="852.6" x2="589.2" y2="853.5" stroke="#2a2a2a" stroke-width="0.9"/>
<line x1="586" y1="852.8" x2="592.5" y2="852.8" stroke="#2a2a2a" stroke-width="0.8"/>
<line x1="557.3" y1="662" x2="621.2" y2="662" stroke="#2a2a2a" stroke-width="1"/>
<text x="594" y="652.8" font-size="13" text-anchor="middle" font-weight="bold">NS</text>
<text x="478" y="739" font-size="13" font-weight="bold" text-anchor="middle" transform="rotate(-90 478 739)">Migrated neutrophils (x10<tspan font-size="7.5" dy="-4.5">4</tspan><tspan dy="4.5">)</tspan></text>
<text x="489" y="875.6" font-size="13" text-anchor="middle" font-weight="bold">MIP-2</text>
<text x="524.9" y="876.2" font-size="13" text-anchor="middle" font-weight="bold">-</text>
<text x="556.9" y="876.2" font-size="13" text-anchor="middle" font-weight="bold">+</text>
<text x="588.7" y="874.9" font-size="13" text-anchor="middle" font-weight="bold">-</text>
<text x="621.1" y="874.9" font-size="13" text-anchor="middle" font-weight="bold">+</text>
<line x1="515" y1="884.3" x2="567.2" y2="884.3" stroke="#2a2a2a" stroke-width="1.1"/>
<line x1="579" y1="884.3" x2="631.5" y2="884.3" stroke="#2a2a2a" stroke-width="1.1"/>
<text x="541.5" y="901" font-size="13" text-anchor="middle" font-weight="bold">WT</text>
<text x="607.5" y="901" font-size="13" font-weight="bold" text-anchor="middle"><tspan font-style="italic">Dcir1</tspan><tspan font-size="8" font-weight="bold" font-style="italic" dx=".6" dy="-4">-/-</tspan></text>
</svg>
</body></html>
